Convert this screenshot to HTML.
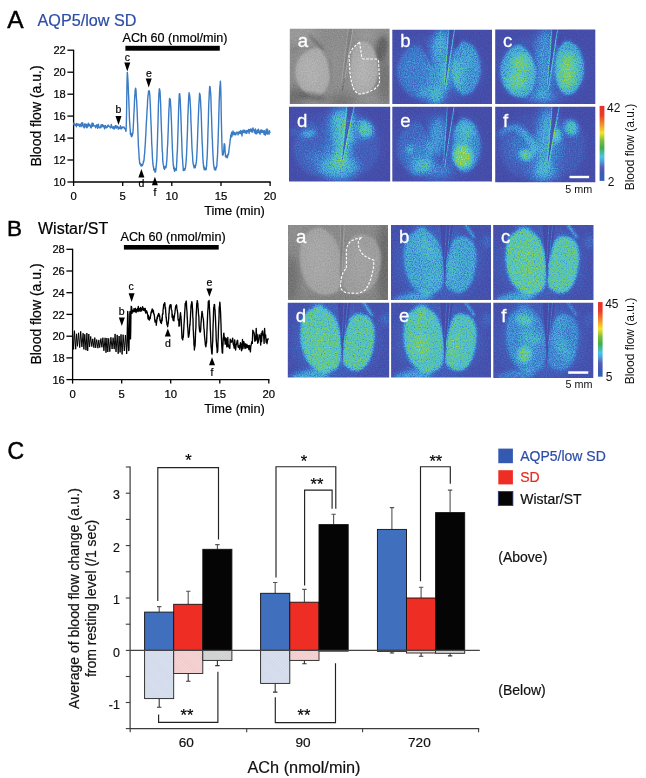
<!DOCTYPE html>
<html><head><meta charset="utf-8"><title>Figure</title>
<style>html,body{margin:0;padding:0;background:#fff}svg{display:block}text{font-family:"Liberation Sans", sans-serif}</style>
</head><body>
<svg width="646" height="778" viewBox="0 0 646 778">
<rect width="646" height="778" fill="#fff"/>
<defs><filter id="bl05" x="-0.5" y="-0.5" width="2" height="2"><feGaussianBlur stdDeviation="0.45"/></filter>
<filter id="bl1" x="-0.5" y="-0.5" width="2" height="2"><feGaussianBlur stdDeviation="1"/></filter>
<filter id="bl2" x="-0.5" y="-0.5" width="2" height="2"><feGaussianBlur stdDeviation="2.2"/></filter>
<filter id="bl4" x="-0.5" y="-0.5" width="2" height="2"><feGaussianBlur stdDeviation="4"/></filter>
<linearGradient id="cbar" x1="0" y1="0" x2="0" y2="1"><stop offset="0" stop-color="#e8302a"/><stop offset="0.12" stop-color="#ea3a28"/><stop offset="0.24" stop-color="#f28a2a"/><stop offset="0.36" stop-color="#f4e42c"/><stop offset="0.46" stop-color="#7fbf3c"/><stop offset="0.56" stop-color="#3fae4a"/><stop offset="0.68" stop-color="#4cc4e6"/><stop offset="0.74" stop-color="#4aa0dc"/><stop offset="0.82" stop-color="#5a5cb2"/><stop offset="0.9" stop-color="#3a5cb6"/><stop offset="1" stop-color="#3560b8"/></linearGradient>
<pattern id="hatch0" width="2" height="2" patternUnits="userSpaceOnUse" patternTransform="rotate(45)"><rect width="2" height="0.8" fill="#ccd5e8"/></pattern>
<pattern id="hatch1" width="2" height="2" patternUnits="userSpaceOnUse" patternTransform="rotate(45)"><rect width="2" height="0.8" fill="#f0c6c6"/></pattern>
<pattern id="hatch2" width="2" height="2" patternUnits="userSpaceOnUse" patternTransform="rotate(45)"><rect width="2" height="0.8" fill="#c8cac9"/></pattern>
<filter id="fAa" x="0" y="0" width="1" height="1" color-interpolation-filters="sRGB">
<feGaussianBlur in="SourceGraphic" stdDeviation="0.7" result="b"/>
<feTurbulence type="fractalNoise" baseFrequency="0.8" numOctaves="2" seed="1" result="n"/>
<feColorMatrix in="n" type="matrix" values="1 0 0 0 0  1 0 0 0 0  1 0 0 0 0  0 0 0 0 1" result="ng"/>
<feComposite in="b" in2="ng" operator="arithmetic" k1="0" k2="1" k3="0.15" k4="-0.075" result="m"/>
<feComponentTransfer in="m"><feFuncA type="linear" slope="0" intercept="1"/></feComponentTransfer>
</filter>
<filter id="fAb" x="0" y="0" width="1" height="1" color-interpolation-filters="sRGB">
<feGaussianBlur in="SourceGraphic" stdDeviation="0.5" result="b"/>
<feTurbulence type="fractalNoise" baseFrequency="0.85" numOctaves="2" seed="4" result="n"/>
<feColorMatrix in="n" type="matrix" values="1.45 0 0 0 -0.225  1.45 0 0 0 -0.225  1.45 0 0 0 -0.225  0 0 0 0 1" result="ng0"/>
<feGaussianBlur in="ng0" stdDeviation="0.35" result="ng"/>
<feComposite in="b" in2="ng" operator="arithmetic" k1="0.7" k2="0.65" k3="0.07" k4="-0.035" result="m"/>
<feComponentTransfer in="m"><feFuncR type="table" tableValues="0.267 0.271 0.273 0.269 0.261 0.249 0.249 0.261 0.276 0.296 0.327 0.371 0.417 0.466 0.537 0.631 0.725 0.820 0.914 0.961 0.961 0.961 0.952 0.936 0.919 0.902"/><feFuncG type="table" tableValues="0.259 0.286 0.315 0.351 0.398 0.457 0.526 0.607 0.674 0.726 0.763 0.782 0.796 0.804 0.819 0.841 0.863 0.875 0.888 0.837 0.722 0.607 0.496 0.389 0.283 0.176"/><feFuncB type="table" tableValues="0.620 0.646 0.676 0.711 0.751 0.794 0.824 0.839 0.831 0.800 0.735 0.637 0.539 0.441 0.362 0.303 0.243 0.216 0.190 0.170 0.157 0.144 0.140 0.146 0.151 0.157"/><feFuncA type="linear" slope="0" intercept="1"/></feComponentTransfer>
</filter>
<filter id="fAc" x="0" y="0" width="1" height="1" color-interpolation-filters="sRGB">
<feGaussianBlur in="SourceGraphic" stdDeviation="0.5" result="b"/>
<feTurbulence type="fractalNoise" baseFrequency="0.85" numOctaves="2" seed="7" result="n"/>
<feColorMatrix in="n" type="matrix" values="1.45 0 0 0 -0.225  1.45 0 0 0 -0.225  1.45 0 0 0 -0.225  0 0 0 0 1" result="ng0"/>
<feGaussianBlur in="ng0" stdDeviation="0.35" result="ng"/>
<feComposite in="b" in2="ng" operator="arithmetic" k1="0.7" k2="0.65" k3="0.07" k4="-0.035" result="m"/>
<feComponentTransfer in="m"><feFuncR type="table" tableValues="0.267 0.271 0.273 0.269 0.261 0.249 0.249 0.261 0.276 0.296 0.327 0.371 0.417 0.466 0.537 0.631 0.725 0.820 0.914 0.961 0.961 0.961 0.952 0.936 0.919 0.902"/><feFuncG type="table" tableValues="0.259 0.286 0.315 0.351 0.398 0.457 0.526 0.607 0.674 0.726 0.763 0.782 0.796 0.804 0.819 0.841 0.863 0.875 0.888 0.837 0.722 0.607 0.496 0.389 0.283 0.176"/><feFuncB type="table" tableValues="0.620 0.646 0.676 0.711 0.751 0.794 0.824 0.839 0.831 0.800 0.735 0.637 0.539 0.441 0.362 0.303 0.243 0.216 0.190 0.170 0.157 0.144 0.140 0.146 0.151 0.157"/><feFuncA type="linear" slope="0" intercept="1"/></feComponentTransfer>
</filter>
<filter id="fAd" x="0" y="0" width="1" height="1" color-interpolation-filters="sRGB">
<feGaussianBlur in="SourceGraphic" stdDeviation="0.5" result="b"/>
<feTurbulence type="fractalNoise" baseFrequency="0.85" numOctaves="2" seed="10" result="n"/>
<feColorMatrix in="n" type="matrix" values="1.45 0 0 0 -0.225  1.45 0 0 0 -0.225  1.45 0 0 0 -0.225  0 0 0 0 1" result="ng0"/>
<feGaussianBlur in="ng0" stdDeviation="0.35" result="ng"/>
<feComposite in="b" in2="ng" operator="arithmetic" k1="0.7" k2="0.65" k3="0.07" k4="-0.035" result="m"/>
<feComponentTransfer in="m"><feFuncR type="table" tableValues="0.267 0.271 0.273 0.269 0.261 0.249 0.249 0.261 0.276 0.296 0.327 0.371 0.417 0.466 0.537 0.631 0.725 0.820 0.914 0.961 0.961 0.961 0.952 0.936 0.919 0.902"/><feFuncG type="table" tableValues="0.259 0.286 0.315 0.351 0.398 0.457 0.526 0.607 0.674 0.726 0.763 0.782 0.796 0.804 0.819 0.841 0.863 0.875 0.888 0.837 0.722 0.607 0.496 0.389 0.283 0.176"/><feFuncB type="table" tableValues="0.620 0.646 0.676 0.711 0.751 0.794 0.824 0.839 0.831 0.800 0.735 0.637 0.539 0.441 0.362 0.303 0.243 0.216 0.190 0.170 0.157 0.144 0.140 0.146 0.151 0.157"/><feFuncA type="linear" slope="0" intercept="1"/></feComponentTransfer>
</filter>
<filter id="fAe" x="0" y="0" width="1" height="1" color-interpolation-filters="sRGB">
<feGaussianBlur in="SourceGraphic" stdDeviation="0.5" result="b"/>
<feTurbulence type="fractalNoise" baseFrequency="0.85" numOctaves="2" seed="13" result="n"/>
<feColorMatrix in="n" type="matrix" values="1.45 0 0 0 -0.225  1.45 0 0 0 -0.225  1.45 0 0 0 -0.225  0 0 0 0 1" result="ng0"/>
<feGaussianBlur in="ng0" stdDeviation="0.35" result="ng"/>
<feComposite in="b" in2="ng" operator="arithmetic" k1="0.7" k2="0.65" k3="0.07" k4="-0.035" result="m"/>
<feComponentTransfer in="m"><feFuncR type="table" tableValues="0.267 0.271 0.273 0.269 0.261 0.249 0.249 0.261 0.276 0.296 0.327 0.371 0.417 0.466 0.537 0.631 0.725 0.820 0.914 0.961 0.961 0.961 0.952 0.936 0.919 0.902"/><feFuncG type="table" tableValues="0.259 0.286 0.315 0.351 0.398 0.457 0.526 0.607 0.674 0.726 0.763 0.782 0.796 0.804 0.819 0.841 0.863 0.875 0.888 0.837 0.722 0.607 0.496 0.389 0.283 0.176"/><feFuncB type="table" tableValues="0.620 0.646 0.676 0.711 0.751 0.794 0.824 0.839 0.831 0.800 0.735 0.637 0.539 0.441 0.362 0.303 0.243 0.216 0.190 0.170 0.157 0.144 0.140 0.146 0.151 0.157"/><feFuncA type="linear" slope="0" intercept="1"/></feComponentTransfer>
</filter>
<filter id="fAf" x="0" y="0" width="1" height="1" color-interpolation-filters="sRGB">
<feGaussianBlur in="SourceGraphic" stdDeviation="0.5" result="b"/>
<feTurbulence type="fractalNoise" baseFrequency="0.85" numOctaves="2" seed="16" result="n"/>
<feColorMatrix in="n" type="matrix" values="1.45 0 0 0 -0.225  1.45 0 0 0 -0.225  1.45 0 0 0 -0.225  0 0 0 0 1" result="ng0"/>
<feGaussianBlur in="ng0" stdDeviation="0.35" result="ng"/>
<feComposite in="b" in2="ng" operator="arithmetic" k1="0.7" k2="0.65" k3="0.07" k4="-0.035" result="m"/>
<feComponentTransfer in="m"><feFuncR type="table" tableValues="0.267 0.271 0.273 0.269 0.261 0.249 0.249 0.261 0.276 0.296 0.327 0.371 0.417 0.466 0.537 0.631 0.725 0.820 0.914 0.961 0.961 0.961 0.952 0.936 0.919 0.902"/><feFuncG type="table" tableValues="0.259 0.286 0.315 0.351 0.398 0.457 0.526 0.607 0.674 0.726 0.763 0.782 0.796 0.804 0.819 0.841 0.863 0.875 0.888 0.837 0.722 0.607 0.496 0.389 0.283 0.176"/><feFuncB type="table" tableValues="0.620 0.646 0.676 0.711 0.751 0.794 0.824 0.839 0.831 0.800 0.735 0.637 0.539 0.441 0.362 0.303 0.243 0.216 0.190 0.170 0.157 0.144 0.140 0.146 0.151 0.157"/><feFuncA type="linear" slope="0" intercept="1"/></feComponentTransfer>
</filter>
<filter id="fBa" x="0" y="0" width="1" height="1" color-interpolation-filters="sRGB">
<feGaussianBlur in="SourceGraphic" stdDeviation="0.7" result="b"/>
<feTurbulence type="fractalNoise" baseFrequency="0.8" numOctaves="2" seed="19" result="n"/>
<feColorMatrix in="n" type="matrix" values="1 0 0 0 0  1 0 0 0 0  1 0 0 0 0  0 0 0 0 1" result="ng"/>
<feComposite in="b" in2="ng" operator="arithmetic" k1="0" k2="1" k3="0.15" k4="-0.075" result="m"/>
<feComponentTransfer in="m"><feFuncA type="linear" slope="0" intercept="1"/></feComponentTransfer>
</filter>
<filter id="fBb" x="0" y="0" width="1" height="1" color-interpolation-filters="sRGB">
<feGaussianBlur in="SourceGraphic" stdDeviation="0.5" result="b"/>
<feTurbulence type="fractalNoise" baseFrequency="0.85" numOctaves="2" seed="22" result="n"/>
<feColorMatrix in="n" type="matrix" values="1.45 0 0 0 -0.225  1.45 0 0 0 -0.225  1.45 0 0 0 -0.225  0 0 0 0 1" result="ng0"/>
<feGaussianBlur in="ng0" stdDeviation="0.35" result="ng"/>
<feComposite in="b" in2="ng" operator="arithmetic" k1="0.7" k2="0.65" k3="0.07" k4="-0.035" result="m"/>
<feComponentTransfer in="m"><feFuncR type="table" tableValues="0.267 0.271 0.273 0.269 0.261 0.249 0.249 0.261 0.276 0.296 0.327 0.371 0.417 0.466 0.537 0.631 0.725 0.820 0.914 0.961 0.961 0.961 0.952 0.936 0.919 0.902"/><feFuncG type="table" tableValues="0.259 0.286 0.315 0.351 0.398 0.457 0.526 0.607 0.674 0.726 0.763 0.782 0.796 0.804 0.819 0.841 0.863 0.875 0.888 0.837 0.722 0.607 0.496 0.389 0.283 0.176"/><feFuncB type="table" tableValues="0.620 0.646 0.676 0.711 0.751 0.794 0.824 0.839 0.831 0.800 0.735 0.637 0.539 0.441 0.362 0.303 0.243 0.216 0.190 0.170 0.157 0.144 0.140 0.146 0.151 0.157"/><feFuncA type="linear" slope="0" intercept="1"/></feComponentTransfer>
</filter>
<filter id="fBc" x="0" y="0" width="1" height="1" color-interpolation-filters="sRGB">
<feGaussianBlur in="SourceGraphic" stdDeviation="0.5" result="b"/>
<feTurbulence type="fractalNoise" baseFrequency="0.85" numOctaves="2" seed="25" result="n"/>
<feColorMatrix in="n" type="matrix" values="1.45 0 0 0 -0.225  1.45 0 0 0 -0.225  1.45 0 0 0 -0.225  0 0 0 0 1" result="ng0"/>
<feGaussianBlur in="ng0" stdDeviation="0.35" result="ng"/>
<feComposite in="b" in2="ng" operator="arithmetic" k1="0.7" k2="0.65" k3="0.07" k4="-0.035" result="m"/>
<feComponentTransfer in="m"><feFuncR type="table" tableValues="0.267 0.271 0.273 0.269 0.261 0.249 0.249 0.261 0.276 0.296 0.327 0.371 0.417 0.466 0.537 0.631 0.725 0.820 0.914 0.961 0.961 0.961 0.952 0.936 0.919 0.902"/><feFuncG type="table" tableValues="0.259 0.286 0.315 0.351 0.398 0.457 0.526 0.607 0.674 0.726 0.763 0.782 0.796 0.804 0.819 0.841 0.863 0.875 0.888 0.837 0.722 0.607 0.496 0.389 0.283 0.176"/><feFuncB type="table" tableValues="0.620 0.646 0.676 0.711 0.751 0.794 0.824 0.839 0.831 0.800 0.735 0.637 0.539 0.441 0.362 0.303 0.243 0.216 0.190 0.170 0.157 0.144 0.140 0.146 0.151 0.157"/><feFuncA type="linear" slope="0" intercept="1"/></feComponentTransfer>
</filter>
<filter id="fBd" x="0" y="0" width="1" height="1" color-interpolation-filters="sRGB">
<feGaussianBlur in="SourceGraphic" stdDeviation="0.5" result="b"/>
<feTurbulence type="fractalNoise" baseFrequency="0.85" numOctaves="2" seed="28" result="n"/>
<feColorMatrix in="n" type="matrix" values="1.45 0 0 0 -0.225  1.45 0 0 0 -0.225  1.45 0 0 0 -0.225  0 0 0 0 1" result="ng0"/>
<feGaussianBlur in="ng0" stdDeviation="0.35" result="ng"/>
<feComposite in="b" in2="ng" operator="arithmetic" k1="0.7" k2="0.65" k3="0.07" k4="-0.035" result="m"/>
<feComponentTransfer in="m"><feFuncR type="table" tableValues="0.267 0.271 0.273 0.269 0.261 0.249 0.249 0.261 0.276 0.296 0.327 0.371 0.417 0.466 0.537 0.631 0.725 0.820 0.914 0.961 0.961 0.961 0.952 0.936 0.919 0.902"/><feFuncG type="table" tableValues="0.259 0.286 0.315 0.351 0.398 0.457 0.526 0.607 0.674 0.726 0.763 0.782 0.796 0.804 0.819 0.841 0.863 0.875 0.888 0.837 0.722 0.607 0.496 0.389 0.283 0.176"/><feFuncB type="table" tableValues="0.620 0.646 0.676 0.711 0.751 0.794 0.824 0.839 0.831 0.800 0.735 0.637 0.539 0.441 0.362 0.303 0.243 0.216 0.190 0.170 0.157 0.144 0.140 0.146 0.151 0.157"/><feFuncA type="linear" slope="0" intercept="1"/></feComponentTransfer>
</filter>
<filter id="fBe" x="0" y="0" width="1" height="1" color-interpolation-filters="sRGB">
<feGaussianBlur in="SourceGraphic" stdDeviation="0.5" result="b"/>
<feTurbulence type="fractalNoise" baseFrequency="0.85" numOctaves="2" seed="31" result="n"/>
<feColorMatrix in="n" type="matrix" values="1.45 0 0 0 -0.225  1.45 0 0 0 -0.225  1.45 0 0 0 -0.225  0 0 0 0 1" result="ng0"/>
<feGaussianBlur in="ng0" stdDeviation="0.35" result="ng"/>
<feComposite in="b" in2="ng" operator="arithmetic" k1="0.7" k2="0.65" k3="0.07" k4="-0.035" result="m"/>
<feComponentTransfer in="m"><feFuncR type="table" tableValues="0.267 0.271 0.273 0.269 0.261 0.249 0.249 0.261 0.276 0.296 0.327 0.371 0.417 0.466 0.537 0.631 0.725 0.820 0.914 0.961 0.961 0.961 0.952 0.936 0.919 0.902"/><feFuncG type="table" tableValues="0.259 0.286 0.315 0.351 0.398 0.457 0.526 0.607 0.674 0.726 0.763 0.782 0.796 0.804 0.819 0.841 0.863 0.875 0.888 0.837 0.722 0.607 0.496 0.389 0.283 0.176"/><feFuncB type="table" tableValues="0.620 0.646 0.676 0.711 0.751 0.794 0.824 0.839 0.831 0.800 0.735 0.637 0.539 0.441 0.362 0.303 0.243 0.216 0.190 0.170 0.157 0.144 0.140 0.146 0.151 0.157"/><feFuncA type="linear" slope="0" intercept="1"/></feComponentTransfer>
</filter>
<filter id="fBf" x="0" y="0" width="1" height="1" color-interpolation-filters="sRGB">
<feGaussianBlur in="SourceGraphic" stdDeviation="0.5" result="b"/>
<feTurbulence type="fractalNoise" baseFrequency="0.85" numOctaves="2" seed="34" result="n"/>
<feColorMatrix in="n" type="matrix" values="1.45 0 0 0 -0.225  1.45 0 0 0 -0.225  1.45 0 0 0 -0.225  0 0 0 0 1" result="ng0"/>
<feGaussianBlur in="ng0" stdDeviation="0.35" result="ng"/>
<feComposite in="b" in2="ng" operator="arithmetic" k1="0.7" k2="0.65" k3="0.07" k4="-0.035" result="m"/>
<feComponentTransfer in="m"><feFuncR type="table" tableValues="0.267 0.271 0.273 0.269 0.261 0.249 0.249 0.261 0.276 0.296 0.327 0.371 0.417 0.466 0.537 0.631 0.725 0.820 0.914 0.961 0.961 0.961 0.952 0.936 0.919 0.902"/><feFuncG type="table" tableValues="0.259 0.286 0.315 0.351 0.398 0.457 0.526 0.607 0.674 0.726 0.763 0.782 0.796 0.804 0.819 0.841 0.863 0.875 0.888 0.837 0.722 0.607 0.496 0.389 0.283 0.176"/><feFuncB type="table" tableValues="0.620 0.646 0.676 0.711 0.751 0.794 0.824 0.839 0.831 0.800 0.735 0.637 0.539 0.441 0.362 0.303 0.243 0.216 0.190 0.170 0.157 0.144 0.140 0.146 0.151 0.157"/><feFuncA type="linear" slope="0" intercept="1"/></feComponentTransfer>
</filter></defs>
<text x="7.3" y="27.8" font-size="24.5" fill="#000" stroke="#000" stroke-width="0.45" text-anchor="start">A</text>
<text x="37.5" y="25.6" font-size="16.2" fill="#2c4da6" stroke="#2c4da6" stroke-width="0.2" text-anchor="start">AQP5/low SD</text>
<text x="122.5" y="42" font-size="12.6" fill="#000" stroke="#000" stroke-width="0.2" text-anchor="start">ACh 60 (nmol/min)</text>
<rect x="125.4" y="45.8" width="94.4" height="4.9" fill="#000"/>
<path d="M73.6,49.64000000000001 V182.0 H270.70000000000005" fill="none" stroke="#000" stroke-width="1.3"/>
<path d="M67.39999999999999,182.0 H73.6" stroke="#000" stroke-width="1.3"/>
<text x="65.8" y="186.1" font-size="11.1" fill="#000" stroke="#000" stroke-width="0.2" text-anchor="end">10</text>
<path d="M67.39999999999999,160.0 H73.6" stroke="#000" stroke-width="1.3"/>
<text x="65.8" y="164.1" font-size="11.1" fill="#000" stroke="#000" stroke-width="0.2" text-anchor="end">12</text>
<path d="M67.39999999999999,138.1 H73.6" stroke="#000" stroke-width="1.3"/>
<text x="65.8" y="142.2" font-size="11.1" fill="#000" stroke="#000" stroke-width="0.2" text-anchor="end">14</text>
<path d="M67.39999999999999,116.1 H73.6" stroke="#000" stroke-width="1.3"/>
<text x="65.8" y="120.2" font-size="11.1" fill="#000" stroke="#000" stroke-width="0.2" text-anchor="end">16</text>
<path d="M67.39999999999999,94.2 H73.6" stroke="#000" stroke-width="1.3"/>
<text x="65.8" y="98.3" font-size="11.1" fill="#000" stroke="#000" stroke-width="0.2" text-anchor="end">18</text>
<path d="M67.39999999999999,72.2 H73.6" stroke="#000" stroke-width="1.3"/>
<text x="65.8" y="76.3" font-size="11.1" fill="#000" stroke="#000" stroke-width="0.2" text-anchor="end">20</text>
<path d="M67.39999999999999,50.2 H73.6" stroke="#000" stroke-width="1.3"/>
<text x="65.8" y="54.3" font-size="11.1" fill="#000" stroke="#000" stroke-width="0.2" text-anchor="end">22</text>
<path d="M73.6,182.0 V186.0" stroke="#000" stroke-width="1.3"/>
<text x="73.6" y="200.4" font-size="11.3" fill="#000" stroke="#000" stroke-width="0.2" text-anchor="middle">0</text>
<path d="M122.7,182.0 V186.0" stroke="#000" stroke-width="1.3"/>
<text x="122.7" y="200.4" font-size="11.3" fill="#000" stroke="#000" stroke-width="0.2" text-anchor="middle">5</text>
<path d="M171.8,182.0 V186.0" stroke="#000" stroke-width="1.3"/>
<text x="171.8" y="200.4" font-size="11.3" fill="#000" stroke="#000" stroke-width="0.2" text-anchor="middle">10</text>
<path d="M221.0,182.0 V186.0" stroke="#000" stroke-width="1.3"/>
<text x="221.0" y="200.4" font-size="11.3" fill="#000" stroke="#000" stroke-width="0.2" text-anchor="middle">15</text>
<path d="M270.1,182.0 V186.0" stroke="#000" stroke-width="1.3"/>
<text x="270.1" y="200.4" font-size="11.3" fill="#000" stroke="#000" stroke-width="0.2" text-anchor="middle">20</text>
<text x="41.0" y="116" font-size="14" fill="#000" stroke="#000" stroke-width="0.2" text-anchor="middle" transform="rotate(-90 41.0 116)">Blood flow (a.u.)</text>
<text x="234.5" y="215.3" font-size="12.8" fill="#000" stroke="#000" stroke-width="0.2" text-anchor="middle">Time (min)</text>
<path d="M73.6,122.3 L74.0,124.9 L74.4,124.4 L74.8,123.9 L75.2,125.4 L75.6,124.5 L76.0,124.5 L76.4,126.7 L76.7,123.4 L77.1,123.9 L77.5,125.4 L77.9,124.9 L78.3,124.1 L78.7,125.0 L79.1,125.1 L79.5,126.5 L79.9,124.1 L80.3,124.7 L80.7,124.5 L81.1,126.7 L81.5,122.9 L81.9,124.8 L82.2,125.5 L82.6,122.6 L83.0,125.1 L83.4,126.8 L83.8,125.6 L84.2,127.9 L84.6,123.9 L85.0,125.7 L85.4,126.1 L85.8,124.0 L86.2,127.3 L86.6,124.7 L87.0,127.8 L87.4,126.2 L87.7,126.9 L88.1,123.7 L88.5,123.3 L88.9,125.9 L89.3,124.5 L89.7,125.8 L90.1,124.9 L90.5,126.5 L90.9,127.7 L91.3,127.8 L91.7,125.2 L92.1,123.0 L92.5,125.4 L92.9,126.4 L93.2,123.5 L93.6,125.5 L94.0,125.7 L94.4,125.6 L94.8,126.1 L95.2,126.3 L95.6,127.7 L96.0,125.4 L96.4,126.2 L96.8,124.6 L97.2,126.5 L97.6,128.4 L98.0,126.3 L98.4,124.1 L98.8,126.7 L99.1,127.3 L99.5,127.7 L99.9,127.6 L100.3,126.7 L100.7,127.8 L101.1,124.6 L101.5,126.8 L101.9,126.3 L102.3,124.7 L102.7,124.7 L103.1,126.8 L103.5,126.2 L103.9,125.7 L104.3,126.9 L104.6,128.8 L105.0,125.9 L105.4,125.6 L105.8,126.2 L106.2,127.9 L106.6,127.0 L107.0,127.5 L107.4,127.2 L107.8,125.3 L108.2,125.1 L108.6,126.1 L109.0,126.3 L109.4,126.2 L109.8,127.0 L110.1,127.1 L110.5,127.9 L110.9,127.2 L111.3,124.4 L111.7,126.1 L112.1,127.6 L112.5,127.8 L112.9,128.3 L113.3,126.8 L113.7,126.8 L114.1,129.1 L114.5,126.8 L114.9,128.1 L115.3,125.7 L115.7,127.3 L116.0,125.4 L116.4,128.1 L116.8,127.9 L117.2,127.2 L117.6,126.3 L118.0,126.9 L118.4,129.2 L118.8,127.5 L119.2,127.7 L119.6,128.3 L120.0,128.6 L120.4,125.7 L120.8,128.3 L121.2,128.9 L121.5,127.1 L121.9,127.8 L122.3,128.0 L122.7,127.0 L123.1,127.4 L123.5,127.6 L123.9,126.9 L124.3,127.8 L124.7,128.9 L125.1,128.6 L125.5,128.8 L125.7,130.2 L125.9,131.3 L126.1,130.7 L126.3,124.1 L126.5,116.3 L126.7,103.8 L126.9,87.4 L127.1,77.7 L127.3,72.4 L127.5,74.0 L127.7,76.6 L127.9,79.8 L128.1,83.3 L128.3,88.0 L128.5,94.1 L128.8,99.4 L129.0,106.6 L129.2,110.8 L129.4,117.9 L129.6,121.1 L129.8,124.3 L130.0,127.2 L130.2,129.2 L130.4,134.3 L130.6,133.2 L130.8,133.5 L131.0,134.2 L131.2,136.2 L131.4,134.9 L131.6,133.5 L131.8,136.8 L132.0,134.8 L132.2,134.0 L132.4,135.4 L132.6,133.3 L132.8,133.6 L133.0,131.4 L133.2,128.8 L133.4,124.5 L133.6,120.9 L133.8,115.4 L134.0,112.5 L134.3,106.8 L134.5,101.0 L134.7,97.0 L134.9,95.2 L135.1,90.4 L135.3,89.7 L135.5,88.3 L135.7,88.8 L135.9,89.0 L136.1,92.1 L136.3,96.7 L136.5,99.5 L136.7,101.2 L136.9,106.5 L137.1,109.8 L137.3,115.5 L137.5,121.6 L137.7,124.9 L137.9,131.7 L138.1,137.8 L138.2,138.3 L138.4,146.5 L138.6,147.9 L138.8,151.0 L139.0,154.8 L139.2,159.2 L139.4,158.6 L139.6,162.7 L139.8,163.9 L140.0,163.9 L140.2,163.4 L140.4,164.3 L140.6,164.1 L140.8,165.5 L141.0,165.2 L141.2,166.2 L141.4,165.4 L141.6,164.5 L141.8,165.4 L142.0,164.6 L142.2,165.6 L142.4,165.5 L142.6,164.7 L142.8,164.6 L143.0,163.5 L143.2,163.3 L143.4,161.0 L143.6,162.0 L143.8,160.9 L144.0,160.2 L144.2,157.5 L144.4,154.9 L144.6,154.1 L144.8,150.9 L145.0,147.4 L145.2,145.2 L145.4,142.3 L145.6,137.4 L145.8,134.6 L146.0,130.5 L146.2,125.9 L146.4,122.0 L146.6,119.5 L146.8,115.8 L147.0,111.3 L147.2,108.1 L147.4,106.5 L147.6,100.2 L147.8,98.6 L148.0,95.5 L148.2,95.3 L148.5,91.2 L148.7,91.9 L148.9,90.7 L149.1,91.7 L149.3,90.9 L149.5,92.3 L149.7,94.4 L149.9,96.7 L150.1,100.7 L150.3,104.1 L150.5,110.2 L150.7,115.8 L150.9,120.2 L151.1,125.0 L151.3,129.9 L151.5,135.7 L151.7,143.3 L151.9,146.0 L152.1,149.3 L152.3,154.6 L152.5,158.6 L152.7,160.8 L152.9,164.0 L153.1,164.8 L153.3,167.0 L153.5,166.7 L153.7,168.4 L153.9,170.1 L154.1,169.1 L154.3,168.9 L154.5,170.5 L154.7,170.3 L155.0,172.2 L155.1,169.0 L155.3,170.5 L155.5,171.8 L155.7,171.1 L155.9,168.9 L156.1,166.7 L156.3,165.8 L156.5,162.7 L156.7,161.0 L156.9,157.1 L157.1,150.0 L157.3,144.8 L157.5,139.0 L157.7,131.0 L157.9,126.2 L158.1,118.6 L158.3,110.4 L158.5,103.3 L158.7,99.5 L158.9,93.3 L159.1,92.1 L159.3,89.1 L159.5,88.8 L159.7,90.8 L159.9,90.6 L160.1,92.6 L160.3,97.2 L160.5,101.5 L160.7,105.1 L160.9,113.3 L161.1,119.4 L161.3,124.6 L161.5,131.2 L161.7,134.6 L161.9,141.1 L162.1,147.4 L162.3,151.7 L162.5,152.3 L162.7,159.1 L162.9,162.0 L163.1,163.1 L163.3,164.4 L163.6,166.0 L163.8,167.8 L164.0,168.5 L164.2,167.0 L164.4,167.8 L164.6,169.3 L164.8,166.6 L165.0,167.0 L165.2,167.9 L165.4,167.9 L165.6,167.2 L165.8,167.7 L166.0,167.7 L166.2,165.1 L166.4,165.4 L166.6,161.7 L166.8,161.1 L167.0,156.8 L167.2,153.3 L167.4,147.4 L167.6,145.8 L167.8,141.3 L168.0,135.4 L168.2,130.6 L168.4,124.7 L168.6,118.6 L168.8,113.4 L169.0,108.1 L169.2,106.6 L169.4,100.2 L169.6,98.5 L169.8,99.2 L170.0,100.8 L170.2,99.2 L170.4,100.6 L170.6,105.5 L170.8,106.6 L171.0,111.1 L171.2,116.6 L171.4,120.5 L171.6,125.7 L171.8,132.9 L172.0,137.8 L172.2,144.1 L172.4,149.2 L172.6,152.9 L172.8,156.5 L173.0,161.0 L173.3,165.4 L173.5,164.9 L173.7,168.7 L173.9,168.2 L174.1,167.3 L174.3,169.6 L174.5,171.0 L174.7,171.3 L174.9,168.8 L175.1,169.9 L175.3,169.4 L175.5,169.0 L175.7,169.8 L175.9,169.6 L176.1,169.5 L176.3,170.3 L176.5,166.8 L176.7,162.7 L176.9,159.3 L177.1,154.4 L177.4,149.7 L177.6,143.6 L177.8,136.6 L178.0,131.5 L178.2,124.1 L178.4,118.6 L178.6,109.8 L178.8,105.1 L179.0,100.0 L179.2,95.5 L179.4,93.8 L179.6,94.2 L179.8,94.0 L180.0,98.0 L180.2,99.0 L180.4,103.2 L180.6,109.7 L180.8,112.2 L181.0,120.1 L181.2,124.9 L181.4,132.2 L181.6,136.9 L181.8,142.3 L182.0,149.6 L182.2,155.0 L182.4,157.6 L182.6,160.0 L182.8,163.8 L183.0,166.1 L183.1,166.4 L183.3,170.6 L183.5,169.0 L183.7,170.0 L183.9,168.5 L184.1,169.5 L184.3,169.9 L184.5,169.2 L184.7,170.2 L184.9,168.7 L185.1,169.1 L185.3,168.3 L185.5,167.8 L185.7,165.0 L185.9,164.2 L186.1,161.2 L186.3,158.3 L186.5,155.9 L186.7,150.3 L186.9,145.7 L187.1,140.4 L187.3,135.4 L187.5,129.4 L187.7,122.2 L187.9,114.9 L188.1,112.2 L188.3,105.7 L188.5,102.1 L188.7,97.3 L188.9,94.9 L189.1,92.6 L189.3,95.8 L189.5,94.1 L189.7,95.9 L189.9,97.3 L190.1,101.0 L190.3,104.8 L190.5,107.9 L190.7,111.6 L190.9,121.4 L191.1,124.3 L191.3,129.2 L191.5,134.8 L191.7,140.2 L191.9,146.0 L192.1,150.0 L192.3,152.2 L192.5,155.2 L192.7,159.0 L192.9,162.2 L193.1,163.0 L193.3,164.7 L193.5,164.8 L193.7,165.9 L193.9,167.0 L194.1,166.3 L194.3,167.8 L194.5,165.8 L194.7,165.5 L194.9,167.8 L195.1,166.2 L195.3,167.5 L195.5,165.2 L195.7,164.9 L195.9,165.2 L196.1,162.8 L196.3,162.5 L196.5,160.5 L196.7,157.6 L196.9,153.7 L197.1,149.8 L197.3,144.7 L197.5,140.3 L197.7,133.5 L197.9,127.5 L198.1,123.2 L198.3,118.5 L198.6,111.0 L198.8,105.6 L199.0,102.6 L199.2,100.2 L199.4,96.0 L199.6,93.2 L199.8,96.0 L200.0,94.2 L200.2,96.4 L200.4,99.3 L200.6,101.1 L200.8,106.8 L201.0,109.7 L201.2,113.7 L201.4,120.1 L201.6,126.7 L201.8,133.1 L202.0,138.1 L202.2,143.9 L202.4,145.4 L202.6,151.6 L202.8,156.4 L203.0,160.1 L203.2,162.7 L203.4,164.3 L203.6,167.1 L203.8,165.5 L204.0,168.8 L204.2,169.5 L204.4,168.8 L204.6,167.8 L204.8,168.0 L205.0,169.9 L205.2,169.1 L205.4,169.2 L205.6,168.8 L205.8,168.9 L206.0,169.7 L206.2,169.3 L206.4,166.7 L206.6,166.2 L206.8,161.1 L207.0,159.1 L207.2,156.0 L207.4,150.3 L207.6,144.7 L207.8,137.9 L208.0,130.0 L208.2,125.2 L208.4,118.5 L208.6,109.3 L208.8,103.4 L209.1,97.4 L209.3,92.4 L209.5,89.5 L209.7,86.4 L209.9,87.4 L210.1,86.9 L210.3,89.3 L210.5,92.0 L210.7,93.5 L210.9,97.6 L211.1,104.7 L211.2,109.1 L211.4,113.3 L211.6,118.4 L211.8,126.0 L212.0,131.4 L212.2,138.2 L212.4,139.7 L212.6,146.7 L212.8,150.8 L213.0,155.0 L213.2,158.1 L213.4,161.2 L213.6,164.5 L213.8,165.2 L214.0,167.1 L214.2,166.9 L214.4,169.5 L214.6,169.6 L214.8,168.6 L215.0,168.1 L215.2,169.2 L215.4,170.1 L215.6,169.5 L215.8,169.8 L216.0,167.3 L216.2,168.0 L216.4,167.1 L216.6,167.1 L216.8,166.5 L217.0,162.7 L217.2,159.5 L217.4,157.1 L217.6,153.5 L217.8,147.5 L218.0,143.3 L218.2,136.0 L218.4,130.8 L218.6,124.2 L218.8,115.6 L219.0,109.0 L219.2,100.9 L219.4,97.1 L219.6,91.5 L219.8,88.4 L220.0,86.0 L220.2,83.9 L220.4,81.1 L220.6,85.0 L220.8,89.4 L221.0,99.1 L221.2,112.6 L221.4,122.6 L221.7,134.8 L221.9,142.4 L222.1,149.5 L222.3,151.7 L222.5,155.1 L222.7,153.9 L222.9,155.0 L223.2,154.6 L223.4,153.5 L223.6,152.6 L223.8,150.3 L224.0,146.4 L224.2,143.8 L224.4,144.9 L224.6,144.0 L224.9,146.3 L225.1,151.0 L225.3,152.8 L225.5,156.6 L225.7,155.0 L226.0,157.0 L226.2,156.8 L226.4,155.6 L226.6,156.9 L226.8,156.1 L227.0,157.7 L227.2,157.1 L227.4,157.7 L227.6,156.3 L227.8,154.7 L228.0,154.9 L228.2,153.6 L228.4,154.6 L228.6,153.4 L228.8,151.8 L229.0,149.5 L229.2,148.2 L229.4,147.0 L229.6,144.8 L229.8,143.9 L230.0,142.1 L230.2,139.2 L230.4,139.6 L230.6,137.4 L230.8,134.9 L231.0,135.4 L231.2,134.1 L231.4,135.0 L231.6,132.3 L231.8,136.7 L232.2,135.0 L232.6,134.8 L233.0,131.0 L233.4,132.7 L233.7,133.5 L234.1,134.9 L234.5,132.4 L234.9,132.7 L235.3,133.8 L235.7,134.9 L236.1,134.2 L236.5,132.3 L236.9,132.1 L237.3,132.3 L237.7,132.6 L238.1,134.8 L238.5,132.2 L238.9,133.7 L239.2,132.1 L239.6,131.4 L240.0,133.0 L240.4,133.4 L240.8,130.5 L241.2,131.3 L241.6,132.7 L242.0,136.0 L242.4,131.7 L242.8,130.7 L243.2,130.0 L243.6,132.5 L244.0,132.4 L244.4,132.0 L244.8,130.2 L245.1,133.0 L245.5,131.5 L245.9,132.6 L246.3,130.8 L246.7,133.4 L247.1,130.6 L247.5,131.8 L247.9,131.4 L248.3,130.3 L248.7,129.4 L249.1,133.5 L249.5,129.6 L249.9,130.2 L250.3,131.4 L250.6,129.0 L251.0,130.7 L251.4,129.1 L251.8,131.8 L252.2,132.2 L252.6,129.2 L253.0,127.9 L253.4,130.0 L253.8,129.7 L254.2,131.6 L254.6,132.9 L255.0,131.3 L255.4,128.9 L255.8,133.7 L256.1,131.7 L256.5,133.8 L256.9,130.9 L257.3,129.9 L257.7,132.9 L258.1,131.7 L258.5,129.3 L258.9,131.3 L259.3,133.0 L259.7,133.2 L260.1,134.2 L260.5,130.3 L260.9,132.5 L261.3,130.0 L261.7,130.3 L262.0,132.5 L262.4,132.4 L262.8,130.5 L263.2,131.5 L263.6,131.4 L264.0,134.2 L264.4,130.6 L264.8,133.2 L265.2,135.2 L265.6,132.9 L266.0,131.5 L266.4,129.2 L266.8,132.8 L267.2,134.2 L267.5,129.3 L267.9,132.2 L268.3,132.9 L268.7,134.1 L269.1,134.1 L269.5,130.6 L269.9,133.2" fill="none" stroke="#3a7bc4" stroke-width="1.4" stroke-linejoin="round"/>
<path d="M115.5,116 L121.5,116 L118.5,125 Z" fill="#000"/>
<text x="118.5" y="113.2" font-size="10.5" fill="#000" stroke="#000" stroke-width="0.2" text-anchor="middle">b</text>
<path d="M124.3,62.599999999999994 L130.3,62.599999999999994 L127.3,71.6 Z" fill="#000"/>
<text x="127.3" y="60.6" font-size="10.5" fill="#000" stroke="#000" stroke-width="0.2" text-anchor="middle">c</text>
<path d="M145.7,78.6 L151.7,78.6 L148.7,87.6 Z" fill="#000"/>
<text x="148.9" y="76.8" font-size="10.5" fill="#000" stroke="#000" stroke-width="0.2" text-anchor="middle">e</text>
<path d="M138.4,177.5 L144.4,177.5 L141.4,169 Z" fill="#000"/>
<text x="141.4" y="187.2" font-size="10.5" fill="#000" stroke="#000" stroke-width="0.2" text-anchor="middle">d</text>
<path d="M151.9,185.3 L157.9,185.3 L154.9,176.8 Z" fill="#000"/>
<text x="154.9" y="195.5" font-size="10.5" fill="#000" stroke="#000" stroke-width="0.2" text-anchor="middle">f</text>
<text x="7.0" y="235.8" font-size="22.5" fill="#000" stroke="#000" stroke-width="0.45" text-anchor="start">B</text>
<text x="38.0" y="233.9" font-size="16" fill="#000" stroke="#000" stroke-width="0.2" text-anchor="start">Wistar/ST</text>
<text x="120.6" y="240.6" font-size="12.6" fill="#000" stroke="#000" stroke-width="0.2" text-anchor="start">ACh 60 (nmol/min)</text>
<rect x="123.9" y="245.0" width="94.8" height="4.6" fill="#000"/>
<path d="M72.6,248.68000000000004 V379.6 H269.40000000000003" fill="none" stroke="#000" stroke-width="1.3"/>
<path d="M66.39999999999999,379.6 H72.6" stroke="#000" stroke-width="1.3"/>
<text x="64.8" y="383.7" font-size="11.1" fill="#000" stroke="#000" stroke-width="0.2" text-anchor="end">16</text>
<path d="M66.39999999999999,357.9 H72.6" stroke="#000" stroke-width="1.3"/>
<text x="64.8" y="362.0" font-size="11.1" fill="#000" stroke="#000" stroke-width="0.2" text-anchor="end">18</text>
<path d="M66.39999999999999,336.2 H72.6" stroke="#000" stroke-width="1.3"/>
<text x="64.8" y="340.3" font-size="11.1" fill="#000" stroke="#000" stroke-width="0.2" text-anchor="end">20</text>
<path d="M66.39999999999999,314.4 H72.6" stroke="#000" stroke-width="1.3"/>
<text x="64.8" y="318.5" font-size="11.1" fill="#000" stroke="#000" stroke-width="0.2" text-anchor="end">22</text>
<path d="M66.39999999999999,292.7 H72.6" stroke="#000" stroke-width="1.3"/>
<text x="64.8" y="296.8" font-size="11.1" fill="#000" stroke="#000" stroke-width="0.2" text-anchor="end">24</text>
<path d="M66.39999999999999,271.0 H72.6" stroke="#000" stroke-width="1.3"/>
<text x="64.8" y="275.1" font-size="11.1" fill="#000" stroke="#000" stroke-width="0.2" text-anchor="end">26</text>
<path d="M66.39999999999999,249.3 H72.6" stroke="#000" stroke-width="1.3"/>
<text x="64.8" y="253.4" font-size="11.1" fill="#000" stroke="#000" stroke-width="0.2" text-anchor="end">28</text>
<path d="M72.6,379.6 V383.6" stroke="#000" stroke-width="1.3"/>
<text x="72.6" y="398.0" font-size="11.3" fill="#000" stroke="#000" stroke-width="0.2" text-anchor="middle">0</text>
<path d="M121.7,379.6 V383.6" stroke="#000" stroke-width="1.3"/>
<text x="121.7" y="398.0" font-size="11.3" fill="#000" stroke="#000" stroke-width="0.2" text-anchor="middle">5</text>
<path d="M170.7,379.6 V383.6" stroke="#000" stroke-width="1.3"/>
<text x="170.7" y="398.0" font-size="11.3" fill="#000" stroke="#000" stroke-width="0.2" text-anchor="middle">10</text>
<path d="M219.8,379.6 V383.6" stroke="#000" stroke-width="1.3"/>
<text x="219.8" y="398.0" font-size="11.3" fill="#000" stroke="#000" stroke-width="0.2" text-anchor="middle">15</text>
<path d="M268.8,379.6 V383.6" stroke="#000" stroke-width="1.3"/>
<text x="268.8" y="398.0" font-size="11.3" fill="#000" stroke="#000" stroke-width="0.2" text-anchor="middle">20</text>
<text x="40.6" y="314" font-size="14" fill="#000" stroke="#000" stroke-width="0.2" text-anchor="middle" transform="rotate(-90 40.6 314)">Blood flow (a.u.)</text>
<text x="234.5" y="412.8" font-size="12.8" fill="#000" stroke="#000" stroke-width="0.2" text-anchor="middle">Time (min)</text>
<path d="M72.6,330.8 L73.6,349.4 L74.5,330.7 L75.7,349.2 L76.6,333.8 L77.5,346.3 L78.6,332.8 L79.7,347.6 L80.7,331.3 L81.9,346.9 L83.1,333.2 L83.9,349.4 L84.8,334.3 L86.0,350.2 L86.9,333.1 L87.7,350.9 L88.8,334.0 L89.6,346.9 L90.7,336.4 L91.8,346.6 L92.8,338.8 L93.9,347.7 L94.8,337.6 L95.7,347.9 L96.7,339.6 L97.9,348.2 L98.8,339.9 L99.7,347.6 L100.9,338.5 L101.9,347.3 L102.9,337.7 L103.9,350.8 L105.1,337.8 L106.0,352.7 L106.9,338.0 L107.8,352.0 L108.7,338.4 L109.8,351.7 L110.9,337.3 L112.1,349.0 L113.1,337.7 L114.2,349.1 L115.1,333.9 L116.0,351.9 L117.2,334.9 L118.2,353.7 L119.1,336.0 L120.1,352.4 L121.0,334.4 L122.1,354.4 L123.1,334.7 L124.3,351.0 L125.4,335.0 L126.6,353.9" fill="none" stroke="#000" stroke-width="1.0" stroke-linejoin="round"/>
<path d="M126.6,353.9 L127.0,341.2 L127.3,331.0 L127.5,321.6 L127.7,311.4 L128.0,315.6 L128.2,333.1 L128.5,346.2 L128.7,350.5 L128.9,350.3 L129.1,341.5 L129.4,331.9 L129.6,324.0 L129.8,313.5 L130.0,311.4 L130.2,325.2 L130.5,338.9 L130.7,332.0 L130.9,316.0 L131.2,306.3 L131.4,306.9 L131.6,306.8 L131.8,311.2 L132.0,311.8 L132.1,313.3 L132.3,309.8 L132.5,310.7 L132.7,311.5 L132.9,311.6 L133.1,311.4 L133.3,311.8 L133.5,311.0 L133.7,311.2 L133.9,308.7 L134.1,310.1 L134.3,311.6 L134.5,311.2 L134.7,308.9 L134.9,309.8 L135.1,310.0 L135.3,309.4 L135.5,308.3 L135.7,311.9 L135.9,311.3 L136.1,312.5 L136.3,309.6 L136.5,310.7 L136.7,311.0 L136.9,311.1 L137.1,309.2 L137.3,310.2 L137.5,310.7 L137.7,308.3 L137.9,311.3 L138.1,311.5 L138.3,306.4 L138.5,310.2 L138.7,310.4 L138.9,310.6 L139.1,309.8 L139.3,308.6 L139.5,308.6 L139.7,308.8 L139.9,309.8 L140.1,311.4 L140.3,309.0 L140.5,307.4 L140.7,307.9 L140.9,309.5 L141.0,308.2 L141.2,309.7 L141.4,309.3 L141.6,310.8 L141.8,309.6 L142.0,309.0 L142.2,309.3 L142.4,308.1 L142.6,306.6 L142.8,307.3 L143.0,309.4 L143.2,310.0 L143.4,309.9 L143.6,310.3 L143.8,309.0 L144.0,308.5 L144.2,308.8 L144.4,308.8 L144.6,309.1 L144.8,309.9 L145.0,311.1 L145.2,308.4 L145.4,309.8 L145.6,312.8 L145.8,313.1 L146.0,313.0 L146.2,312.2 L146.4,310.7 L146.6,311.2 L146.8,311.5 L147.0,311.9 L147.2,312.4 L147.4,313.5 L147.6,314.5 L147.8,316.0 L148.0,318.8 L148.2,317.3 L148.4,315.4 L148.6,319.0 L148.8,319.5 L149.0,317.7 L149.2,319.2 L149.4,320.0 L149.6,317.2 L149.8,318.1 L150.0,317.5 L150.2,318.6 L150.4,316.5 L150.6,315.8 L150.8,314.4 L151.0,312.9 L151.2,312.0 L151.4,312.3 L151.6,310.8 L151.8,312.5 L152.0,309.5 L152.2,309.0 L152.4,310.2 L152.6,310.6 L152.9,309.8 L153.1,311.7 L153.3,310.3 L153.5,311.2 L153.7,313.9 L153.9,313.8 L154.1,313.8 L154.3,315.2 L154.5,316.7 L154.7,319.5 L154.9,321.0 L155.1,322.1 L155.3,321.7 L155.5,320.1 L155.7,321.7 L155.9,321.6 L156.1,321.8 L156.3,325.2 L156.5,322.6 L156.7,321.9 L156.9,318.6 L157.2,316.9 L157.4,318.7 L157.6,316.7 L157.8,315.1 L158.0,315.7 L158.2,315.4 L158.4,315.3 L158.6,313.4 L158.9,316.1 L159.1,313.9 L159.3,316.0 L159.5,315.9 L159.7,315.8 L159.9,319.6 L160.1,320.7 L160.3,319.8 L160.6,322.4 L160.8,322.6 L161.0,322.1 L161.2,321.8 L161.4,323.5 L161.6,321.9 L161.8,319.8 L162.0,317.7 L162.2,320.6 L162.4,314.8 L162.6,313.7 L162.8,314.5 L163.0,313.2 L163.1,309.1 L163.3,308.7 L163.5,306.6 L163.7,304.5 L163.9,305.3 L164.1,304.1 L164.3,303.5 L164.5,303.2 L164.7,302.6 L164.9,303.7 L165.1,306.8 L165.3,309.0 L165.5,307.4 L165.7,311.6 L165.9,313.9 L166.1,317.9 L166.3,317.4 L166.5,321.2 L166.8,322.3 L167.0,324.7 L167.2,324.6 L167.4,324.5 L167.6,326.7 L167.8,325.7 L168.0,323.8 L168.1,324.1 L168.3,322.5 L168.5,320.0 L168.7,318.6 L168.9,313.6 L169.1,313.4 L169.3,309.0 L169.5,306.8 L169.7,307.9 L169.9,305.1 L170.1,305.0 L170.3,305.6 L170.5,304.7 L170.7,305.1 L170.9,304.7 L171.1,305.3 L171.3,309.4 L171.5,309.9 L171.7,310.2 L171.9,311.0 L172.1,317.2 L172.3,313.9 L172.5,317.0 L172.7,315.9 L172.9,319.2 L173.1,320.2 L173.3,319.3 L173.5,317.6 L173.7,318.6 L173.9,320.9 L174.1,315.8 L174.3,317.4 L174.5,315.1 L174.7,313.8 L174.9,313.1 L175.1,310.8 L175.3,309.2 L175.5,307.5 L175.7,306.0 L175.9,305.8 L176.1,307.1 L176.3,305.7 L176.5,304.8 L176.7,305.9 L176.9,308.4 L177.1,309.5 L177.4,311.0 L177.6,312.4 L177.8,314.0 L178.0,318.5 L178.2,320.1 L178.4,319.3 L178.6,320.2 L178.8,320.9 L179.0,326.2 L179.2,323.0 L179.5,325.7 L179.7,318.8 L179.9,317.7 L180.1,316.0 L180.3,315.0 L180.5,312.7 L180.7,315.6 L180.9,316.1 L181.2,320.1 L181.4,324.5 L181.6,328.8 L181.8,333.4 L182.0,338.4 L182.3,338.3 L182.5,339.0 L182.7,339.9 L182.9,337.9 L183.1,336.2 L183.3,337.2 L183.5,333.4 L183.6,331.0 L183.8,328.6 L184.0,323.8 L184.2,322.1 L184.4,318.2 L184.6,314.1 L184.8,311.0 L185.0,308.3 L185.2,303.5 L185.4,305.2 L185.6,302.8 L185.8,303.8 L186.0,301.3 L186.2,301.0 L186.4,302.4 L186.6,307.1 L186.8,309.8 L187.0,311.5 L187.2,317.4 L187.4,320.2 L187.6,326.8 L187.8,327.4 L188.0,331.0 L188.2,334.1 L188.4,337.2 L188.7,336.9 L188.8,336.2 L189.0,335.0 L189.2,333.9 L189.4,331.9 L189.6,328.7 L189.8,324.2 L190.0,325.3 L190.2,321.1 L190.4,318.0 L190.6,313.6 L190.8,311.9 L191.0,306.3 L191.2,304.8 L191.4,303.6 L191.6,303.2 L191.8,301.7 L192.0,302.3 L192.2,303.8 L192.4,308.0 L192.6,309.9 L192.8,317.1 L193.0,318.4 L193.2,329.3 L193.4,331.2 L193.6,336.9 L193.8,338.7 L194.0,345.4 L194.2,343.9 L194.4,350.0 L194.6,345.9 L194.8,347.1 L195.1,345.3 L195.3,341.0 L195.5,333.8 L195.7,329.7 L195.9,327.6 L196.1,317.0 L196.3,312.5 L196.5,310.0 L196.8,303.1 L197.0,303.3 L197.2,300.6 L197.4,300.9 L197.6,303.1 L197.8,303.0 L198.0,307.4 L198.2,308.5 L198.4,312.5 L198.6,315.2 L198.8,315.8 L199.0,321.3 L199.1,325.9 L199.3,327.3 L199.5,330.4 L199.7,331.0 L199.9,331.8 L200.1,332.2 L200.3,331.7 L200.6,330.8 L200.8,326.9 L201.0,322.9 L201.2,321.7 L201.4,317.8 L201.7,315.0 L201.9,311.8 L202.1,311.4 L202.3,314.0 L202.5,313.5 L202.7,316.6 L202.9,317.3 L203.1,317.7 L203.3,318.9 L203.5,320.7 L203.7,324.8 L203.9,328.7 L204.1,329.1 L204.3,332.4 L204.4,334.2 L204.6,337.0 L204.8,338.5 L205.0,340.6 L205.2,342.1 L205.4,345.1 L205.6,344.2 L205.8,346.8 L206.0,346.3 L206.2,343.3 L206.4,343.3 L206.6,342.2 L206.8,334.6 L207.0,330.4 L207.2,324.9 L207.4,320.6 L207.6,315.1 L207.8,311.0 L208.1,307.5 L208.3,301.5 L208.5,302.0 L208.7,301.5 L208.9,302.0 L209.1,300.5 L209.3,304.2 L209.5,309.1 L209.7,312.7 L209.9,316.6 L210.1,321.1 L210.3,329.5 L210.5,331.4 L210.7,337.9 L210.9,343.1 L211.1,346.7 L211.3,348.5 L211.5,349.7 L211.7,353.3 L211.9,353.2 L212.1,354.0 L212.3,349.4 L212.5,344.3 L212.7,341.3 L212.9,333.3 L213.1,324.5 L213.3,321.0 L213.5,313.2 L213.7,307.3 L214.0,307.3 L214.2,304.6 L214.4,304.5 L214.6,304.7 L214.8,309.7 L215.0,309.5 L215.2,314.1 L215.4,316.9 L215.6,321.4 L215.8,327.0 L216.0,331.3 L216.2,338.6 L216.4,342.1 L216.6,345.2 L216.8,347.2 L217.0,347.7 L217.2,352.6 L217.4,351.1 L217.6,351.6 L217.8,349.5 L218.0,341.8 L218.2,338.7 L218.4,330.9 L218.6,325.3 L218.8,321.9 L219.0,317.4 L219.2,307.3 L219.4,306.8 L219.6,305.3 L219.8,302.1 L220.0,303.6 L220.2,306.8 L220.4,309.8 L220.6,313.6 L220.8,319.0 L221.0,324.0 L221.2,331.4 L221.4,337.2 L221.6,341.3 L221.8,346.2 L222.0,348.6 L222.2,352.5 L222.4,353.0 L222.6,353.1 L222.8,346.2 L223.0,345.3 L223.2,338.4 L223.5,336.4 L223.7,333.5 L223.9,333.3 L224.1,337.2 L224.3,336.6 L224.5,340.1 L224.8,337.6 L225.0,341.5 L225.2,344.2 L225.4,343.9 L225.6,341.5 L225.8,338.0 L226.3,338.8 L226.8,346.9 L227.3,344.4 L227.8,337.5 L228.3,346.7 L228.8,345.2 L229.3,347.6 L229.8,348.5 L230.2,339.2 L230.7,341.5 L231.2,342.2 L231.7,341.8 L232.2,340.0 L232.7,338.2 L233.2,344.1 L233.7,345.4 L234.2,348.1 L234.7,339.9 L235.2,346.2 L235.6,350.0 L236.1,345.3 L236.6,344.1 L237.1,341.0 L237.6,340.3 L238.1,347.2 L238.6,347.4 L239.1,345.6 L239.6,349.1 L240.1,344.8 L240.5,342.6 L241.0,344.2 L241.5,350.7 L242.0,349.1 L242.5,339.5 L243.0,348.5 L243.5,341.6 L244.0,342.1 L244.5,345.8 L245.0,348.5 L245.5,343.8 L245.9,348.1 L246.4,345.3 L246.9,344.3 L247.4,347.5 L247.9,345.6 L248.4,345.9 L248.9,349.6 L249.4,345.5 L249.9,347.3 L250.4,351.9 L250.8,346.2 L251.3,344.4 L251.8,341.6 L252.3,343.4 L252.8,330.2 L253.3,331.3 L253.8,332.2 L254.3,334.2 L254.8,341.2 L255.3,336.3 L255.8,340.5 L256.2,328.4 L256.7,339.1 L257.2,334.5 L257.7,343.3 L258.2,341.9 L258.7,339.5 L259.2,334.8 L259.7,335.5 L260.2,336.6 L260.7,345.1 L261.1,333.5 L261.6,341.6 L262.1,331.8 L262.6,330.9 L263.1,335.1 L263.6,334.5 L264.1,343.4 L264.6,328.5 L265.1,337.8 L265.6,334.9 L266.1,342.2 L266.5,339.2 L267.0,343.7 L267.5,340.1 L268.0,339.2 L268.5,338.4" fill="none" stroke="#000" stroke-width="1.35" stroke-linejoin="round"/>
<path d="M118.8,317.5 L124.8,317.5 L121.8,326 Z" fill="#000"/>
<text x="121.6" y="315" font-size="10.5" fill="#000" stroke="#000" stroke-width="0.2" text-anchor="middle">b</text>
<path d="M128.6,293.3 L134.6,293.3 L131.6,302 Z" fill="#000"/>
<text x="131.2" y="290.2" font-size="10.5" fill="#000" stroke="#000" stroke-width="0.2" text-anchor="middle">c</text>
<path d="M164.8,336.5 L170.8,336.5 L167.8,328.5 Z" fill="#000"/>
<text x="167.8" y="346.6" font-size="10.5" fill="#000" stroke="#000" stroke-width="0.2" text-anchor="middle">d</text>
<path d="M206.4,288.40000000000003 L212.4,288.40000000000003 L209.4,296.8 Z" fill="#000"/>
<text x="209.4" y="285.8" font-size="10.5" fill="#000" stroke="#000" stroke-width="0.2" text-anchor="middle">e</text>
<path d="M209.0,365.3 L215.0,365.3 L212,357.3 Z" fill="#000"/>
<text x="212" y="375.6" font-size="10.5" fill="#000" stroke="#000" stroke-width="0.2" text-anchor="middle">f</text>
<svg x="289.8" y="28.8" width="99.8" height="75.2" viewBox="0 0 100 75" preserveAspectRatio="none" overflow="hidden">
<g filter="url(#fAa)"><rect x="-20" y="-20" width="140" height="115" fill="#8c8c8c"/><ellipse cx="10" cy="6" rx="18" ry="9" transform="rotate(0 10 6)" fill="#a6a6a6" fill-opacity="0.55" filter="url(#bl4)"/><ellipse cx="76" cy="6" rx="11" ry="5" transform="rotate(0 76 6)" fill="#a8a8a8" fill-opacity="0.55" filter="url(#bl4)"/><ellipse cx="92" cy="20" rx="6" ry="13" transform="rotate(10 92 20)" fill="#484848" fill-opacity="0.6" filter="url(#bl2)"/><ellipse cx="95" cy="52" rx="6" ry="24" transform="rotate(0 95 52)" fill="#5a5a5a" fill-opacity="0.55" filter="url(#bl4)"/><ellipse cx="5" cy="68" rx="12" ry="9" transform="rotate(-30 5 68)" fill="#555" fill-opacity="0.55" filter="url(#bl4)"/><ellipse cx="52" cy="72" rx="14" ry="7" transform="rotate(0 52 72)" fill="#5c5c5c" fill-opacity="0.5" filter="url(#bl4)"/><path d="M20,7 L33,20" stroke="#4a4a4a" stroke-opacity="0.45" stroke-width="2.2" fill="none" stroke-linecap="round" filter="url(#bl1)"/><path d="M0,22 L12,17" stroke="#555" stroke-opacity="0.3" stroke-width="1.5" fill="none" stroke-linecap="round" filter="url(#bl1)"/><ellipse cx="82" cy="72" rx="12" ry="5" transform="rotate(0 82 72)" fill="#999" fill-opacity="0.3" filter="url(#bl4)"/><ellipse cx="46" cy="36" rx="8" ry="24" transform="rotate(3 46 36)" fill="#969696" fill-opacity="0.35" filter="url(#bl4)"/><path d="M28.0,19.0 C25.2,18.2 21.2,20.2 18.0,22.0 C14.8,23.8 11.1,26.7 9.0,30.0 C6.9,33.3 5.7,38.0 5.5,42.0 C5.3,46.0 6.2,50.3 8.0,54.0 C9.8,57.7 13.0,61.7 16.0,64.0 C19.0,66.3 22.8,68.3 26.0,68.0 C29.2,67.7 32.7,65.0 35.0,62.0 C37.3,59.0 39.3,54.0 40.0,50.0 C40.7,46.0 39.8,41.8 39.0,38.0 C38.2,34.2 36.8,30.2 35.0,27.0 C33.2,23.8 30.8,19.8 28.0,19.0Z" fill="#acacac" fill-opacity="0.92" filter="url(#bl1)"/><ellipse cx="21" cy="42" rx="10" ry="15" transform="rotate(-8 21 42)" fill="#b8b8b8" fill-opacity="0.45" filter="url(#bl4)"/><ellipse cx="23" cy="67.5" rx="14" ry="2.8" transform="rotate(10 23 67.5)" fill="#484848" fill-opacity="0.6" filter="url(#bl2)"/><path d="M40,32 L42,54" stroke="#606060" stroke-opacity="0.35" stroke-width="1.6" fill="none" stroke-linecap="round" filter="url(#bl1)"/><path d="M70.0,13.0 C67.2,14.2 64.7,17.8 63.0,22.0 C61.3,26.2 60.2,32.7 60.0,38.0 C59.8,43.3 60.7,49.7 62.0,54.0 C63.3,58.3 65.3,62.3 68.0,64.0 C70.7,65.7 75.0,65.7 78.0,64.0 C81.0,62.3 84.2,58.0 86.0,54.0 C87.8,50.0 88.5,44.7 88.5,40.0 C88.5,35.3 87.4,30.2 86.0,26.0 C84.6,21.8 82.7,17.2 80.0,15.0 C77.3,12.8 72.8,11.8 70.0,13.0Z" fill="#adadad" fill-opacity="0.92" filter="url(#bl1)"/><ellipse cx="73" cy="42" rx="8" ry="16" transform="rotate(4 73 42)" fill="#bcbcbc" fill-opacity="0.5" filter="url(#bl4)"/><path d="M60,24 L61,52" stroke="#666" stroke-opacity="0.3" stroke-width="1.4" fill="none" stroke-linecap="round" filter="url(#bl1)"/><path d="M59,-2 L63.5,-2 L52.5,62 Z" fill="#777" fill-opacity="0.55" filter="url(#bl05)"/><path d="M63.6,-2 L54,56" stroke="#bdbdbd" stroke-opacity="0.6" stroke-width="0.9" fill="none" stroke-linecap="round" filter="url(#bl05)"/><path d="M58.8,-2 L52,52" stroke="#b2b2b2" stroke-opacity="0.55" stroke-width="0.8" fill="none" stroke-linecap="round" filter="url(#bl05)"/><path d="M55,50 L52.5,62" stroke="#555" stroke-opacity="0.5" stroke-width="1.2" fill="none" stroke-linecap="round" filter="url(#bl05)"/></g>
</svg>
<text x="297.7" y="47.2" font-size="18.6" fill="#fff" stroke="#fff" stroke-width="0.3">a</text>
<svg x="392.3" y="29.8" width="99.7" height="74.2" viewBox="0 0 100 75" preserveAspectRatio="none" overflow="hidden">
<g filter="url(#fAb)"><rect x="-20" y="-20" width="140" height="115" fill="rgb(17,17,17)"/><ellipse cx="47" cy="40" rx="45" ry="35" transform="rotate(0 47 40)" fill="#fff" fill-opacity="0.05" filter="url(#bl4)"/><path d="M23.0,15.3 C19.8,15.6 15.0,18.3 12.0,22.0 C9.0,25.7 5.9,32.4 5.0,37.5 C4.1,42.6 4.8,48.0 6.8,52.8 C8.8,57.6 13.3,63.9 17.0,66.4 C20.7,68.9 25.6,69.1 29.0,68.0 C32.4,66.9 35.7,63.3 37.5,59.6 C39.3,55.9 39.9,50.5 40.0,46.0 C40.1,41.5 39.7,36.7 38.3,32.4 C36.9,28.1 34.0,23.2 31.5,20.4 C28.9,17.5 26.2,15.0 23.0,15.3Z" fill="#fff" fill-opacity="0.085" filter="url(#bl1)"/><path d="M23.3,22.0 C20.8,22.2 17.3,24.2 15.0,27.0 C12.8,29.8 10.4,34.8 9.8,38.6 C9.1,42.5 9.6,46.5 11.1,50.1 C12.6,53.7 16.0,58.4 18.8,60.3 C21.5,62.2 25.2,62.4 27.8,61.5 C30.3,60.7 32.8,58.0 34.1,55.2 C35.5,52.5 35.9,48.4 36.0,45.0 C36.1,41.6 35.8,38.0 34.7,34.8 C33.7,31.6 31.5,27.9 29.6,25.8 C27.7,23.7 25.7,21.8 23.3,22.0Z" fill="#fff" fill-opacity="0.04" filter="url(#bl2)"/><ellipse cx="48" cy="36" rx="10" ry="42" transform="rotate(4 48 36)" fill="#fff" fill-opacity="0.18" filter="url(#bl4)"/><ellipse cx="38" cy="66" rx="12" ry="8" transform="rotate(0 38 66)" fill="#fff" fill-opacity="0.15" filter="url(#bl4)"/><ellipse cx="45" cy="14" rx="8" ry="12" transform="rotate(10 45 14)" fill="#fff" fill-opacity="0.08" filter="url(#bl4)"/><ellipse cx="55" cy="45" rx="6" ry="18" transform="rotate(5 55 45)" fill="#fff" fill-opacity="0.1" filter="url(#bl4)"/><path d="M69.8,12.0 C67.5,13.3 64.6,16.1 63.0,20.4 C61.4,24.6 60.5,31.8 60.4,37.5 C60.2,43.2 60.5,49.8 62.1,54.5 C63.7,59.2 66.8,64.2 69.8,65.6 C72.8,67.0 77.0,65.7 80.0,63.0 C83.0,60.3 86.3,54.2 87.7,49.4 C89.1,44.6 89.2,39.1 88.5,34.0 C87.8,28.9 85.4,22.2 83.4,18.7 C81.4,15.2 78.9,13.9 76.6,12.8 C74.3,11.7 72.1,10.7 69.8,12.0Z" fill="#fff" fill-opacity="0.17" filter="url(#bl1)"/><ellipse cx="65.5" cy="46" rx="5.5" ry="15" transform="rotate(4 65.5 46)" fill="#fff" fill-opacity="0.14" filter="url(#bl4)"/><ellipse cx="76" cy="30" rx="7" ry="10" transform="rotate(0 76 30)" fill="#fff" fill-opacity="0.05" filter="url(#bl4)"/><ellipse cx="64.5" cy="12" rx="2.4" ry="7" transform="rotate(12 64.5 12)" fill="#000" fill-opacity="0.7" filter="url(#bl1)"/><path d="M30,12 L40,36" stroke="#000" stroke-opacity="0.35" stroke-width="2.0" fill="none" stroke-linecap="round" filter="url(#bl1)"/><path d="M57.599999999999994,-2 L61.6,-2 L52.4,63 Z" fill="#000" fill-opacity="0.6" filter="url(#bl05)"/><path d="M62.6,-2 L53.199999999999996,60" stroke="#fff" stroke-opacity="0.3" stroke-width="0.9" fill="none" stroke-linecap="round" filter="url(#bl05)"/><path d="M56.599999999999994,-2 L52.1,55" stroke="#fff" stroke-opacity="0.24" stroke-width="0.8" fill="none" stroke-linecap="round" filter="url(#bl05)"/></g>
</svg>
<text x="400.2" y="47.2" font-size="18.6" fill="#fff" stroke="#fff" stroke-width="0.3">b</text>
<svg x="495.2" y="29.4" width="100.1" height="74.6" viewBox="0 0 100 75" preserveAspectRatio="none" overflow="hidden">
<g filter="url(#fAc)"><rect x="-20" y="-20" width="140" height="115" fill="rgb(17,17,17)"/><ellipse cx="47" cy="40" rx="45" ry="35" transform="rotate(0 47 40)" fill="#fff" fill-opacity="0.05" filter="url(#bl4)"/><path d="M23.0,15.3 C19.8,15.6 15.0,18.3 12.0,22.0 C9.0,25.7 5.9,32.4 5.0,37.5 C4.1,42.6 4.8,48.0 6.8,52.8 C8.8,57.6 13.3,63.9 17.0,66.4 C20.7,68.9 25.6,69.1 29.0,68.0 C32.4,66.9 35.7,63.3 37.5,59.6 C39.3,55.9 39.9,50.5 40.0,46.0 C40.1,41.5 39.7,36.7 38.3,32.4 C36.9,28.1 34.0,23.2 31.5,20.4 C28.9,17.5 26.2,15.0 23.0,15.3Z" fill="#fff" fill-opacity="0.2" filter="url(#bl1)"/><ellipse cx="26" cy="33" rx="9.5" ry="9.5" transform="rotate(0 26 33)" fill="#fff" fill-opacity="0.2" filter="url(#bl4)"/><ellipse cx="21" cy="53" rx="10.5" ry="9.5" transform="rotate(0 21 53)" fill="#fff" fill-opacity="0.2" filter="url(#bl4)"/><ellipse cx="24" cy="43" rx="9" ry="15" transform="rotate(-10 24 43)" fill="#fff" fill-opacity="0.12" filter="url(#bl4)"/><ellipse cx="49" cy="34" rx="10" ry="38" transform="rotate(3 49 34)" fill="#fff" fill-opacity="0.17" filter="url(#bl4)"/><ellipse cx="46" cy="68" rx="18" ry="6" transform="rotate(0 46 68)" fill="#fff" fill-opacity="0.12" filter="url(#bl4)"/><path d="M69.8,12.0 C67.5,13.3 64.6,16.1 63.0,20.4 C61.4,24.6 60.5,31.8 60.4,37.5 C60.2,43.2 60.5,49.8 62.1,54.5 C63.7,59.2 66.8,64.2 69.8,65.6 C72.8,67.0 77.0,65.7 80.0,63.0 C83.0,60.3 86.3,54.2 87.7,49.4 C89.1,44.6 89.2,39.1 88.5,34.0 C87.8,28.9 85.4,22.2 83.4,18.7 C81.4,15.2 78.9,13.9 76.6,12.8 C74.3,11.7 72.1,10.7 69.8,12.0Z" fill="#fff" fill-opacity="0.22" filter="url(#bl1)"/><ellipse cx="72" cy="42" rx="8.5" ry="18" transform="rotate(3 72 42)" fill="#fff" fill-opacity="0.29" filter="url(#bl4)"/><ellipse cx="64.5" cy="11" rx="2.4" ry="6" transform="rotate(12 64.5 11)" fill="#000" fill-opacity="0.55" filter="url(#bl1)"/><path d="M34,14 L41.5,36" stroke="#000" stroke-opacity="0.4" stroke-width="1.8" fill="none" stroke-linecap="round" filter="url(#bl1)"/><path d="M57.599999999999994,-2 L61.6,-2 L52.4,63 Z" fill="#000" fill-opacity="0.6" filter="url(#bl05)"/><path d="M62.6,-2 L53.199999999999996,60" stroke="#fff" stroke-opacity="0.3" stroke-width="0.9" fill="none" stroke-linecap="round" filter="url(#bl05)"/><path d="M56.599999999999994,-2 L52.1,55" stroke="#fff" stroke-opacity="0.24" stroke-width="0.8" fill="none" stroke-linecap="round" filter="url(#bl05)"/></g>
</svg>
<text x="503.1" y="47.2" font-size="18.6" fill="#fff" stroke="#fff" stroke-width="0.3">c</text>
<svg x="289.0" y="106.7" width="101.2" height="74.8" viewBox="0 0 100 75" preserveAspectRatio="none" overflow="hidden">
<g filter="url(#fAd)"><rect x="-20" y="-20" width="140" height="115" fill="rgb(17,17,17)"/><ellipse cx="47" cy="40" rx="45" ry="35" transform="rotate(0 47 40)" fill="#fff" fill-opacity="0.04" filter="url(#bl4)"/><ellipse cx="58" cy="22" rx="24" ry="16" transform="rotate(0 58 22)" fill="#fff" fill-opacity="0.09" filter="url(#bl4)"/><ellipse cx="45" cy="55" rx="22" ry="16" transform="rotate(0 45 55)" fill="#fff" fill-opacity="0.07" filter="url(#bl4)"/><path d="M23.0,15.3 C19.8,15.6 15.0,18.3 12.0,22.0 C9.0,25.7 5.9,32.4 5.0,37.5 C4.1,42.6 4.8,48.0 6.8,52.8 C8.8,57.6 13.3,63.9 17.0,66.4 C20.7,68.9 25.6,69.1 29.0,68.0 C32.4,66.9 35.7,63.3 37.5,59.6 C39.3,55.9 39.9,50.5 40.0,46.0 C40.1,41.5 39.7,36.7 38.3,32.4 C36.9,28.1 34.0,23.2 31.5,20.4 C28.9,17.5 26.2,15.0 23.0,15.3Z" fill="#fff" fill-opacity="0.05" filter="url(#bl1)"/><ellipse cx="19" cy="27" rx="7.5" ry="3.6" transform="rotate(-8 19 27)" fill="#fff" fill-opacity="0.2" filter="url(#bl2)"/><ellipse cx="5" cy="25" rx="4" ry="3" transform="rotate(0 5 25)" fill="#fff" fill-opacity="0.1" filter="url(#bl2)"/><ellipse cx="22" cy="50" rx="8" ry="6" transform="rotate(0 22 50)" fill="#fff" fill-opacity="0.03" filter="url(#bl2)"/><ellipse cx="52" cy="30" rx="10" ry="34" transform="rotate(6 52 30)" fill="#fff" fill-opacity="0.2" filter="url(#bl4)"/><ellipse cx="50" cy="62" rx="19" ry="12" transform="rotate(0 50 62)" fill="#fff" fill-opacity="0.18" filter="url(#bl4)"/><ellipse cx="55" cy="34" rx="5" ry="20" transform="rotate(8 55 34)" fill="#fff" fill-opacity="0.12" filter="url(#bl4)"/><ellipse cx="46" cy="10" rx="6" ry="10" transform="rotate(0 46 10)" fill="#fff" fill-opacity="0.12" filter="url(#bl4)"/><ellipse cx="76" cy="23" rx="7" ry="8.5" transform="rotate(-20 76 23)" fill="#fff" fill-opacity="0.23" filter="url(#bl2)"/><path d="M69.8,12.0 C67.5,13.3 64.6,16.1 63.0,20.4 C61.4,24.6 60.5,31.8 60.4,37.5 C60.2,43.2 60.5,49.8 62.1,54.5 C63.7,59.2 66.8,64.2 69.8,65.6 C72.8,67.0 77.0,65.7 80.0,63.0 C83.0,60.3 86.3,54.2 87.7,49.4 C89.1,44.6 89.2,39.1 88.5,34.0 C87.8,28.9 85.4,22.2 83.4,18.7 C81.4,15.2 78.9,13.9 76.6,12.8 C74.3,11.7 72.1,10.7 69.8,12.0Z" fill="#fff" fill-opacity="0.04" filter="url(#bl1)"/><path d="M58.3,-2 L63.7,-2 L51.5,62 Z" fill="#000" fill-opacity="0.6" filter="url(#bl05)"/><path d="M64.7,-2 L52.3,59" stroke="#fff" stroke-opacity="0.3" stroke-width="0.9" fill="none" stroke-linecap="round" filter="url(#bl05)"/><path d="M57.3,-2 L51.2,54" stroke="#fff" stroke-opacity="0.24" stroke-width="0.8" fill="none" stroke-linecap="round" filter="url(#bl05)"/><path d="M56,14.6 L75,14.6" stroke="#fff" stroke-opacity="0.22" stroke-width="0.6" fill="none" stroke-linecap="round"/><path d="M27,17 L34,30" stroke="#000" stroke-opacity="0.35" stroke-width="2.2" fill="none" stroke-linecap="round" filter="url(#bl1)"/></g>
</svg>
<text x="296.9" y="126.8" font-size="18.6" fill="#fff" stroke="#fff" stroke-width="0.3">d</text>
<svg x="392.3" y="106.7" width="99.7" height="74.8" viewBox="0 0 100 75" preserveAspectRatio="none" overflow="hidden">
<g filter="url(#fAe)"><rect x="-20" y="-20" width="140" height="115" fill="rgb(17,17,17)"/><ellipse cx="47" cy="40" rx="45" ry="35" transform="rotate(0 47 40)" fill="#fff" fill-opacity="0.04" filter="url(#bl4)"/><ellipse cx="28" cy="48" rx="14" ry="14" transform="rotate(0 28 48)" fill="#fff" fill-opacity="0.07" filter="url(#bl4)"/><ellipse cx="73" cy="26" rx="11" ry="13" transform="rotate(0 73 26)" fill="#fff" fill-opacity="0.07" filter="url(#bl4)"/><ellipse cx="68" cy="48" rx="13" ry="14" transform="rotate(0 68 48)" fill="#fff" fill-opacity="0.08" filter="url(#bl4)"/><path d="M23.0,15.3 C19.8,15.6 15.0,18.3 12.0,22.0 C9.0,25.7 5.9,32.4 5.0,37.5 C4.1,42.6 4.8,48.0 6.8,52.8 C8.8,57.6 13.3,63.9 17.0,66.4 C20.7,68.9 25.6,69.1 29.0,68.0 C32.4,66.9 35.7,63.3 37.5,59.6 C39.3,55.9 39.9,50.5 40.0,46.0 C40.1,41.5 39.7,36.7 38.3,32.4 C36.9,28.1 34.0,23.2 31.5,20.4 C28.9,17.5 26.2,15.0 23.0,15.3Z" fill="#fff" fill-opacity="0.07" filter="url(#bl1)"/><ellipse cx="17" cy="43" rx="3.5" ry="4" transform="rotate(0 17 43)" fill="#fff" fill-opacity="0.18" filter="url(#bl2)"/><ellipse cx="30" cy="60" rx="12" ry="8" transform="rotate(-20 30 60)" fill="#fff" fill-opacity="0.17" filter="url(#bl4)"/><ellipse cx="45" cy="30" rx="9" ry="20" transform="rotate(5 45 30)" fill="#fff" fill-opacity="0.19" filter="url(#bl4)"/><ellipse cx="46" cy="64" rx="14" ry="8" transform="rotate(0 46 64)" fill="#fff" fill-opacity="0.13" filter="url(#bl4)"/><path d="M69.8,12.0 C67.5,13.3 64.6,16.1 63.0,20.4 C61.4,24.6 60.5,31.8 60.4,37.5 C60.2,43.2 60.5,49.8 62.1,54.5 C63.7,59.2 66.8,64.2 69.8,65.6 C72.8,67.0 77.0,65.7 80.0,63.0 C83.0,60.3 86.3,54.2 87.7,49.4 C89.1,44.6 89.2,39.1 88.5,34.0 C87.8,28.9 85.4,22.2 83.4,18.7 C81.4,15.2 78.9,13.9 76.6,12.8 C74.3,11.7 72.1,10.7 69.8,12.0Z" fill="#fff" fill-opacity="0.14" filter="url(#bl1)"/><ellipse cx="73" cy="24" rx="8" ry="10" transform="rotate(0 73 24)" fill="#fff" fill-opacity="0.1" filter="url(#bl4)"/><ellipse cx="71" cy="50" rx="9.5" ry="12" transform="rotate(-10 71 50)" fill="#fff" fill-opacity="0.3" filter="url(#bl2)"/><ellipse cx="70" cy="50" rx="6" ry="8" transform="rotate(0 70 50)" fill="#fff" fill-opacity="0.08" filter="url(#bl2)"/><ellipse cx="64" cy="11" rx="2.4" ry="6" transform="rotate(12 64 11)" fill="#000" fill-opacity="0.6" filter="url(#bl1)"/><path d="M30,13 L38,34" stroke="#000" stroke-opacity="0.35" stroke-width="2.0" fill="none" stroke-linecap="round" filter="url(#bl1)"/><path d="M56.3,-2 L61.2,-2 L51.8,63 Z" fill="#000" fill-opacity="0.6" filter="url(#bl05)"/><path d="M62.2,-2 L52.599999999999994,60" stroke="#fff" stroke-opacity="0.3" stroke-width="0.9" fill="none" stroke-linecap="round" filter="url(#bl05)"/><path d="M55.3,-2 L51.5,55" stroke="#fff" stroke-opacity="0.24" stroke-width="0.8" fill="none" stroke-linecap="round" filter="url(#bl05)"/></g>
</svg>
<text x="400.2" y="126.8" font-size="18.6" fill="#fff" stroke="#fff" stroke-width="0.3">e</text>
<svg x="495.2" y="106.7" width="100.1" height="75.5" viewBox="0 0 100 75" preserveAspectRatio="none" overflow="hidden">
<g filter="url(#fAf)"><rect x="-20" y="-20" width="140" height="115" fill="rgb(17,17,17)"/><ellipse cx="47" cy="40" rx="45" ry="35" transform="rotate(0 47 40)" fill="#fff" fill-opacity="0.04" filter="url(#bl4)"/><ellipse cx="28" cy="40" rx="14" ry="16" transform="rotate(0 28 40)" fill="#fff" fill-opacity="0.07" filter="url(#bl4)"/><ellipse cx="55" cy="40" rx="14" ry="30" transform="rotate(0 55 40)" fill="#fff" fill-opacity="0.06" filter="url(#bl4)"/><path d="M23.0,15.3 C19.8,15.6 15.0,18.3 12.0,22.0 C9.0,25.7 5.9,32.4 5.0,37.5 C4.1,42.6 4.8,48.0 6.8,52.8 C8.8,57.6 13.3,63.9 17.0,66.4 C20.7,68.9 25.6,69.1 29.0,68.0 C32.4,66.9 35.7,63.3 37.5,59.6 C39.3,55.9 39.9,50.5 40.0,46.0 C40.1,41.5 39.7,36.7 38.3,32.4 C36.9,28.1 34.0,23.2 31.5,20.4 C28.9,17.5 26.2,15.0 23.0,15.3Z" fill="#fff" fill-opacity="0.04" filter="url(#bl1)"/><path d="M5,27 Q18,14 30,28 T38,44" stroke="#fff" stroke-opacity="0.18" stroke-width="5" fill="none" stroke-linecap="round" filter="url(#bl2)"/><ellipse cx="30.5" cy="48" rx="6.5" ry="5.5" transform="rotate(20 30.5 48)" fill="#fff" fill-opacity="0.3" filter="url(#bl2)"/><ellipse cx="50" cy="34" rx="10" ry="38" transform="rotate(5 50 34)" fill="#fff" fill-opacity="0.18" filter="url(#bl4)"/><ellipse cx="48" cy="66" rx="16" ry="9" transform="rotate(0 48 66)" fill="#fff" fill-opacity="0.14" filter="url(#bl4)"/><ellipse cx="61.5" cy="29" rx="4" ry="7" transform="rotate(0 61.5 29)" fill="#fff" fill-opacity="0.28" filter="url(#bl2)"/><ellipse cx="76" cy="21" rx="7" ry="8" transform="rotate(-15 76 21)" fill="#fff" fill-opacity="0.28" filter="url(#bl2)"/><path d="M69.8,12.0 C67.5,13.3 64.6,16.1 63.0,20.4 C61.4,24.6 60.5,31.8 60.4,37.5 C60.2,43.2 60.5,49.8 62.1,54.5 C63.7,59.2 66.8,64.2 69.8,65.6 C72.8,67.0 77.0,65.7 80.0,63.0 C83.0,60.3 86.3,54.2 87.7,49.4 C89.1,44.6 89.2,39.1 88.5,34.0 C87.8,28.9 85.4,22.2 83.4,18.7 C81.4,15.2 78.9,13.9 76.6,12.8 C74.3,11.7 72.1,10.7 69.8,12.0Z" fill="#fff" fill-opacity="0.03" filter="url(#bl1)"/><path d="M57.8,-2 L63.2,-2 L52,63 Z" fill="#000" fill-opacity="0.6" filter="url(#bl05)"/><path d="M64.2,-2 L52.8,60" stroke="#fff" stroke-opacity="0.3" stroke-width="0.9" fill="none" stroke-linecap="round" filter="url(#bl05)"/><path d="M56.8,-2 L51.7,55" stroke="#fff" stroke-opacity="0.24" stroke-width="0.8" fill="none" stroke-linecap="round" filter="url(#bl05)"/></g>
</svg>
<text x="503.1" y="126.8" font-size="18.6" fill="#fff" stroke="#fff" stroke-width="0.3">f</text>
<svg x="288.0" y="225.1" width="99.9" height="74.9" viewBox="0 0 100 75" preserveAspectRatio="none" overflow="hidden">
<g filter="url(#fBa)"><rect x="-20" y="-20" width="140" height="115" fill="#8a8a8a"/><ellipse cx="97" cy="40" rx="8" ry="45" transform="rotate(0 97 40)" fill="#555" fill-opacity="0.6" filter="url(#bl4)"/><ellipse cx="3" cy="55" rx="8" ry="25" transform="rotate(0 3 55)" fill="#5c5c5c" fill-opacity="0.55" filter="url(#bl4)"/><ellipse cx="50" cy="75" rx="40" ry="5" transform="rotate(0 50 75)" fill="#666" fill-opacity="0.35" filter="url(#bl4)"/><ellipse cx="6" cy="8" rx="9" ry="10" transform="rotate(0 6 8)" fill="#999" fill-opacity="0.3" filter="url(#bl4)"/><path d="M29.0,2.5 C25.3,3.7 18.1,7.6 15.3,12.0 C12.5,16.4 12.3,23.3 12.0,29.0 C11.7,34.7 12.2,40.6 13.6,46.0 C15.0,51.4 17.0,57.3 20.4,61.3 C23.8,65.3 29.2,68.9 34.0,69.8 C38.8,70.7 45.8,69.6 49.0,66.6 C52.2,63.6 52.7,58.1 53.2,52.0 C53.7,45.9 53.3,36.4 52.2,30.0 C51.1,23.6 49.0,17.8 46.5,13.6 C44.0,9.4 40.4,6.8 37.5,5.0 C34.6,3.2 32.7,1.3 29.0,2.5Z" fill="#a4a4a4" fill-opacity="0.95" filter="url(#bl1)"/><ellipse cx="30" cy="34" rx="12" ry="22" transform="rotate(-6 30 34)" fill="#aeaeae" fill-opacity="0.45" filter="url(#bl4)"/><path d="M73.0,9.0 C69.2,8.9 65.7,10.3 63.0,13.6 C60.3,16.9 58.4,22.8 57.0,29.0 C55.6,35.2 54.6,45.3 54.5,51.0 C54.4,56.7 54.2,60.0 56.2,63.0 C58.2,66.0 62.4,68.5 66.4,69.0 C70.4,69.5 76.1,68.8 80.0,66.0 C83.9,63.2 87.8,58.0 90.0,52.0 C92.2,46.0 93.7,36.3 93.0,30.0 C92.3,23.7 89.3,17.5 86.0,14.0 C82.7,10.5 76.8,9.1 73.0,9.0Z" fill="#9e9e9e" fill-opacity="0.95" filter="url(#bl1)"/><ellipse cx="73" cy="40" rx="10" ry="18" transform="rotate(5 73 40)" fill="#a8a8a8" fill-opacity="0.45" filter="url(#bl4)"/><path d="M54.5,-2 L52.5,50" stroke="#777" stroke-opacity="0.5" stroke-width="2.2" fill="none" stroke-linecap="round" filter="url(#bl05)"/><path d="M56.5,-2 L54,46" stroke="#b8b8b8" stroke-opacity="0.6" stroke-width="0.8" fill="none" stroke-linecap="round" filter="url(#bl05)"/><path d="M52.8,-2 L51.5,40" stroke="#b0b0b0" stroke-opacity="0.5" stroke-width="0.7" fill="none" stroke-linecap="round" filter="url(#bl05)"/></g>
</svg>
<text x="295.9" y="243.0" font-size="18.6" fill="#fff" stroke="#fff" stroke-width="0.3">a</text>
<svg x="391.1" y="225.1" width="99.9" height="74.9" viewBox="0 0 100 75" preserveAspectRatio="none" overflow="hidden">
<g filter="url(#fBb)"><rect x="-20" y="-20" width="140" height="115" fill="rgb(22,22,22)"/><ellipse cx="48" cy="38" rx="44" ry="40" transform="rotate(0 48 38)" fill="#fff" fill-opacity="0.05" filter="url(#bl4)"/><path d="M29.0,2.5 C25.3,3.7 18.1,7.6 15.3,12.0 C12.5,16.4 12.3,23.3 12.0,29.0 C11.7,34.7 12.2,40.6 13.6,46.0 C15.0,51.4 17.0,57.3 20.4,61.3 C23.8,65.3 29.2,68.9 34.0,69.8 C38.8,70.7 45.8,69.6 49.0,66.6 C52.2,63.6 52.7,58.1 53.2,52.0 C53.7,45.9 53.3,36.4 52.2,30.0 C51.1,23.6 49.0,17.8 46.5,13.6 C44.0,9.4 40.4,6.8 37.5,5.0 C34.6,3.2 32.7,1.3 29.0,2.5Z" fill="#fff" fill-opacity="0.085" filter="url(#bl1)"/><path d="M29.2,4.5 C25.8,5.6 19.0,9.2 16.4,13.4 C13.7,17.5 13.5,24.0 13.3,29.4 C13.0,34.7 13.4,40.3 14.8,45.4 C16.1,50.4 18.0,56.0 21.2,59.7 C24.4,63.5 29.5,66.9 33.9,67.7 C38.4,68.6 45.0,67.5 48.0,64.7 C51.0,61.9 51.5,56.7 52.0,51.0 C52.5,45.3 52.1,36.3 51.0,30.3 C50.0,24.3 48.0,18.8 45.7,14.9 C43.4,11.0 40.0,8.6 37.2,6.8 C34.5,5.1 32.7,3.4 29.2,4.5Z" fill="#fff" fill-opacity="0.115" filter="url(#bl1)"/><path d="M71.5,10.2 C68.3,9.9 64.9,10.5 62.5,13.6 C60.1,16.7 58.6,22.9 57.2,29.0 C55.8,35.1 54.6,44.4 54.2,50.0 C53.8,55.6 53.0,59.3 55.0,62.5 C57.0,65.7 62.8,68.6 66.4,69.0 C70.0,69.4 73.8,67.7 76.6,64.7 C79.4,61.7 81.8,57.0 83.4,51.0 C85.0,45.0 86.3,35.0 86.0,29.0 C85.7,23.1 84.1,18.4 81.7,15.3 C79.3,12.2 74.7,10.5 71.5,10.2Z" fill="#fff" fill-opacity="0.085" filter="url(#bl1)"/><path d="M71.4,12.0 C68.4,11.7 65.2,12.2 62.9,15.1 C60.7,18.1 59.2,23.9 57.9,29.6 C56.6,35.3 55.5,44.1 55.1,49.4 C54.8,54.6 54.0,58.1 55.9,61.1 C57.8,64.1 63.2,66.9 66.6,67.2 C70.0,67.6 73.5,66.0 76.2,63.2 C78.8,60.4 81.1,55.9 82.6,50.3 C84.0,44.7 85.3,35.2 85.0,29.6 C84.7,24.0 83.2,19.7 81.0,16.7 C78.7,13.8 74.4,12.2 71.4,12.0Z" fill="#fff" fill-opacity="0.115" filter="url(#bl1)"/><ellipse cx="36" cy="24" rx="5" ry="15" transform="rotate(-35 36 24)" fill="#fff" fill-opacity="0.1" filter="url(#bl4)"/><ellipse cx="42" cy="52" rx="7" ry="10" transform="rotate(0 42 52)" fill="#fff" fill-opacity="0.06" filter="url(#bl4)"/><ellipse cx="61" cy="42" rx="4" ry="12" transform="rotate(5 61 42)" fill="#fff" fill-opacity="0.09" filter="url(#bl4)"/><ellipse cx="22" cy="73" rx="20" ry="6" transform="rotate(-8 22 73)" fill="#fff" fill-opacity="0.2" filter="url(#bl2)"/><path d="M74,-1 L83,12" stroke="#fff" stroke-opacity="0.25" stroke-width="2.5" fill="none" stroke-linecap="round" filter="url(#bl1)"/><ellipse cx="96" cy="17" rx="5" ry="7" transform="rotate(0 96 17)" fill="#fff" fill-opacity="0.08" filter="url(#bl2)"/><ellipse cx="30" cy="2" rx="8" ry="3" transform="rotate(0 30 2)" fill="#fff" fill-opacity="0.1" filter="url(#bl2)"/><path d="M49,-2 L62.5,-2 L55,40 L53.6,64 L52.6,40 Z" fill="#000" fill-opacity="0.6" filter="url(#bl05)"/><path d="M59.2,-1 L55.2,42" stroke="#fff" stroke-opacity="0.22" stroke-width="0.8" fill="none" stroke-linecap="round" filter="url(#bl05)"/><path d="M55.6,-1 L53.6,34" stroke="#fff" stroke-opacity="0.2" stroke-width="0.7" fill="none" stroke-linecap="round" filter="url(#bl05)"/></g>
</svg>
<text x="399.0" y="243.0" font-size="18.6" fill="#fff" stroke="#fff" stroke-width="0.3">b</text>
<svg x="493.2" y="225.1" width="100.3" height="74.9" viewBox="0 0 100 75" preserveAspectRatio="none" overflow="hidden">
<g filter="url(#fBc)"><rect x="-20" y="-20" width="140" height="115" fill="rgb(22,22,22)"/><ellipse cx="48" cy="38" rx="44" ry="40" transform="rotate(0 48 38)" fill="#fff" fill-opacity="0.05" filter="url(#bl4)"/><path d="M29.0,2.5 C25.3,3.7 18.1,7.6 15.3,12.0 C12.5,16.4 12.3,23.3 12.0,29.0 C11.7,34.7 12.2,40.6 13.6,46.0 C15.0,51.4 17.0,57.3 20.4,61.3 C23.8,65.3 29.2,68.9 34.0,69.8 C38.8,70.7 45.8,69.6 49.0,66.6 C52.2,63.6 52.7,58.1 53.2,52.0 C53.7,45.9 53.3,36.4 52.2,30.0 C51.1,23.6 49.0,17.8 46.5,13.6 C44.0,9.4 40.4,6.8 37.5,5.0 C34.6,3.2 32.7,1.3 29.0,2.5Z" fill="#fff" fill-opacity="0.17" filter="url(#bl1)"/><path d="M29.2,4.5 C25.8,5.6 19.0,9.2 16.4,13.4 C13.7,17.5 13.5,24.0 13.3,29.4 C13.0,34.7 13.4,40.3 14.8,45.4 C16.1,50.4 18.0,56.0 21.2,59.7 C24.4,63.5 29.5,66.9 33.9,67.7 C38.4,68.6 45.0,67.5 48.0,64.7 C51.0,61.9 51.5,56.7 52.0,51.0 C52.5,45.3 52.1,36.3 51.0,30.3 C50.0,24.3 48.0,18.8 45.7,14.9 C43.4,11.0 40.0,8.6 37.2,6.8 C34.5,5.1 32.7,3.4 29.2,4.5Z" fill="#fff" fill-opacity="0.205" filter="url(#bl1)"/><path d="M71.5,10.2 C68.3,9.9 64.9,10.5 62.5,13.6 C60.1,16.7 58.6,22.9 57.2,29.0 C55.8,35.1 54.6,44.4 54.2,50.0 C53.8,55.6 53.0,59.3 55.0,62.5 C57.0,65.7 62.8,68.6 66.4,69.0 C70.0,69.4 73.8,67.7 76.6,64.7 C79.4,61.7 81.8,57.0 83.4,51.0 C85.0,45.0 86.3,35.0 86.0,29.0 C85.7,23.1 84.1,18.4 81.7,15.3 C79.3,12.2 74.7,10.5 71.5,10.2Z" fill="#fff" fill-opacity="0.17" filter="url(#bl1)"/><path d="M71.4,12.0 C68.4,11.7 65.2,12.2 62.9,15.1 C60.7,18.1 59.2,23.9 57.9,29.6 C56.6,35.3 55.5,44.1 55.1,49.4 C54.8,54.6 54.0,58.1 55.9,61.1 C57.8,64.1 63.2,66.9 66.6,67.2 C70.0,67.6 73.5,66.0 76.2,63.2 C78.8,60.4 81.1,55.9 82.6,50.3 C84.0,44.7 85.3,35.2 85.0,29.6 C84.7,24.0 83.2,19.7 81.0,16.7 C78.7,13.8 74.4,12.2 71.4,12.0Z" fill="#fff" fill-opacity="0.195" filter="url(#bl1)"/><ellipse cx="33" cy="42" rx="10" ry="22" transform="rotate(-6 33 42)" fill="#fff" fill-opacity="0.05" filter="url(#bl4)"/><ellipse cx="22" cy="73" rx="20" ry="6" transform="rotate(-8 22 73)" fill="#fff" fill-opacity="0.22000000000000003" filter="url(#bl2)"/><path d="M74,-1 L83,12" stroke="#fff" stroke-opacity="0.275" stroke-width="2.5" fill="none" stroke-linecap="round" filter="url(#bl1)"/><ellipse cx="96" cy="17" rx="5" ry="7" transform="rotate(0 96 17)" fill="#fff" fill-opacity="0.08800000000000001" filter="url(#bl2)"/><ellipse cx="30" cy="2" rx="8" ry="3" transform="rotate(0 30 2)" fill="#fff" fill-opacity="0.11000000000000001" filter="url(#bl2)"/><path d="M49,-2 L62.5,-2 L55,40 L53.6,64 L52.6,40 Z" fill="#000" fill-opacity="0.6" filter="url(#bl05)"/><path d="M59.2,-1 L55.2,42" stroke="#fff" stroke-opacity="0.22" stroke-width="0.8" fill="none" stroke-linecap="round" filter="url(#bl05)"/><path d="M55.6,-1 L53.6,34" stroke="#fff" stroke-opacity="0.2" stroke-width="0.7" fill="none" stroke-linecap="round" filter="url(#bl05)"/></g>
</svg>
<text x="501.1" y="243.0" font-size="18.6" fill="#fff" stroke="#fff" stroke-width="0.3">c</text>
<svg x="287.8" y="302.8" width="101.4" height="74.7" viewBox="0 0 100 75" preserveAspectRatio="none" overflow="hidden">
<g filter="url(#fBd)"><rect x="-20" y="-20" width="140" height="115" fill="rgb(22,22,22)"/><ellipse cx="48" cy="38" rx="44" ry="40" transform="rotate(0 48 38)" fill="#fff" fill-opacity="0.05" filter="url(#bl4)"/><path d="M29.0,2.5 C25.3,3.7 18.1,7.6 15.3,12.0 C12.5,16.4 12.3,23.3 12.0,29.0 C11.7,34.7 12.2,40.6 13.6,46.0 C15.0,51.4 17.0,57.3 20.4,61.3 C23.8,65.3 29.2,68.9 34.0,69.8 C38.8,70.7 45.8,69.6 49.0,66.6 C52.2,63.6 52.7,58.1 53.2,52.0 C53.7,45.9 53.3,36.4 52.2,30.0 C51.1,23.6 49.0,17.8 46.5,13.6 C44.0,9.4 40.4,6.8 37.5,5.0 C34.6,3.2 32.7,1.3 29.0,2.5Z" fill="#fff" fill-opacity="0.17" filter="url(#bl1)"/><path d="M29.2,4.5 C25.8,5.6 19.0,9.2 16.4,13.4 C13.7,17.5 13.5,24.0 13.3,29.4 C13.0,34.7 13.4,40.3 14.8,45.4 C16.1,50.4 18.0,56.0 21.2,59.7 C24.4,63.5 29.5,66.9 33.9,67.7 C38.4,68.6 45.0,67.5 48.0,64.7 C51.0,61.9 51.5,56.7 52.0,51.0 C52.5,45.3 52.1,36.3 51.0,30.3 C50.0,24.3 48.0,18.8 45.7,14.9 C43.4,11.0 40.0,8.6 37.2,6.8 C34.5,5.1 32.7,3.4 29.2,4.5Z" fill="#fff" fill-opacity="0.2" filter="url(#bl1)"/><path d="M71.5,10.2 C68.3,9.9 64.9,10.5 62.5,13.6 C60.1,16.7 58.6,22.9 57.2,29.0 C55.8,35.1 54.6,44.4 54.2,50.0 C53.8,55.6 53.0,59.3 55.0,62.5 C57.0,65.7 62.8,68.6 66.4,69.0 C70.0,69.4 73.8,67.7 76.6,64.7 C79.4,61.7 81.8,57.0 83.4,51.0 C85.0,45.0 86.3,35.0 86.0,29.0 C85.7,23.1 84.1,18.4 81.7,15.3 C79.3,12.2 74.7,10.5 71.5,10.2Z" fill="#fff" fill-opacity="0.17" filter="url(#bl1)"/><path d="M71.4,12.0 C68.4,11.7 65.2,12.2 62.9,15.1 C60.7,18.1 59.2,23.9 57.9,29.6 C56.6,35.3 55.5,44.1 55.1,49.4 C54.8,54.6 54.0,58.1 55.9,61.1 C57.8,64.1 63.2,66.9 66.6,67.2 C70.0,67.6 73.5,66.0 76.2,63.2 C78.8,60.4 81.1,55.9 82.6,50.3 C84.0,44.7 85.3,35.2 85.0,29.6 C84.7,24.0 83.2,19.7 81.0,16.7 C78.7,13.8 74.4,12.2 71.4,12.0Z" fill="#fff" fill-opacity="0.19" filter="url(#bl1)"/><ellipse cx="33" cy="44" rx="10" ry="20" transform="rotate(-6 33 44)" fill="#fff" fill-opacity="0.05" filter="url(#bl4)"/><ellipse cx="22" cy="73" rx="20" ry="6" transform="rotate(-8 22 73)" fill="#fff" fill-opacity="0.22000000000000003" filter="url(#bl2)"/><path d="M74,-1 L83,12" stroke="#fff" stroke-opacity="0.275" stroke-width="2.5" fill="none" stroke-linecap="round" filter="url(#bl1)"/><ellipse cx="96" cy="17" rx="5" ry="7" transform="rotate(0 96 17)" fill="#fff" fill-opacity="0.08800000000000001" filter="url(#bl2)"/><ellipse cx="30" cy="2" rx="8" ry="3" transform="rotate(0 30 2)" fill="#fff" fill-opacity="0.11000000000000001" filter="url(#bl2)"/><path d="M49,-2 L62.5,-2 L55,40 L53.6,64 L52.6,40 Z" fill="#000" fill-opacity="0.6" filter="url(#bl05)"/><path d="M59.2,-1 L55.2,42" stroke="#fff" stroke-opacity="0.22" stroke-width="0.8" fill="none" stroke-linecap="round" filter="url(#bl05)"/><path d="M55.6,-1 L53.6,34" stroke="#fff" stroke-opacity="0.2" stroke-width="0.7" fill="none" stroke-linecap="round" filter="url(#bl05)"/></g>
</svg>
<text x="295.7" y="321.6" font-size="18.6" fill="#fff" stroke="#fff" stroke-width="0.3">d</text>
<svg x="391.1" y="302.8" width="99.9" height="74.8" viewBox="0 0 100 75" preserveAspectRatio="none" overflow="hidden">
<g filter="url(#fBe)"><rect x="-20" y="-20" width="140" height="115" fill="rgb(22,22,22)"/><ellipse cx="48" cy="38" rx="44" ry="40" transform="rotate(0 48 38)" fill="#fff" fill-opacity="0.05" filter="url(#bl4)"/><path d="M29.0,2.5 C25.3,3.7 18.1,7.6 15.3,12.0 C12.5,16.4 12.3,23.3 12.0,29.0 C11.7,34.7 12.2,40.6 13.6,46.0 C15.0,51.4 17.0,57.3 20.4,61.3 C23.8,65.3 29.2,68.9 34.0,69.8 C38.8,70.7 45.8,69.6 49.0,66.6 C52.2,63.6 52.7,58.1 53.2,52.0 C53.7,45.9 53.3,36.4 52.2,30.0 C51.1,23.6 49.0,17.8 46.5,13.6 C44.0,9.4 40.4,6.8 37.5,5.0 C34.6,3.2 32.7,1.3 29.0,2.5Z" fill="#fff" fill-opacity="0.15" filter="url(#bl1)"/><path d="M29.2,4.5 C25.8,5.6 19.0,9.2 16.4,13.4 C13.7,17.5 13.5,24.0 13.3,29.4 C13.0,34.7 13.4,40.3 14.8,45.4 C16.1,50.4 18.0,56.0 21.2,59.7 C24.4,63.5 29.5,66.9 33.9,67.7 C38.4,68.6 45.0,67.5 48.0,64.7 C51.0,61.9 51.5,56.7 52.0,51.0 C52.5,45.3 52.1,36.3 51.0,30.3 C50.0,24.3 48.0,18.8 45.7,14.9 C43.4,11.0 40.0,8.6 37.2,6.8 C34.5,5.1 32.7,3.4 29.2,4.5Z" fill="#fff" fill-opacity="0.19" filter="url(#bl1)"/><path d="M71.5,10.2 C68.3,9.9 64.9,10.5 62.5,13.6 C60.1,16.7 58.6,22.9 57.2,29.0 C55.8,35.1 54.6,44.4 54.2,50.0 C53.8,55.6 53.0,59.3 55.0,62.5 C57.0,65.7 62.8,68.6 66.4,69.0 C70.0,69.4 73.8,67.7 76.6,64.7 C79.4,61.7 81.8,57.0 83.4,51.0 C85.0,45.0 86.3,35.0 86.0,29.0 C85.7,23.1 84.1,18.4 81.7,15.3 C79.3,12.2 74.7,10.5 71.5,10.2Z" fill="#fff" fill-opacity="0.15" filter="url(#bl1)"/><path d="M71.4,12.0 C68.4,11.7 65.2,12.2 62.9,15.1 C60.7,18.1 59.2,23.9 57.9,29.6 C56.6,35.3 55.5,44.1 55.1,49.4 C54.8,54.6 54.0,58.1 55.9,61.1 C57.8,64.1 63.2,66.9 66.6,67.2 C70.0,67.6 73.5,66.0 76.2,63.2 C78.8,60.4 81.1,55.9 82.6,50.3 C84.0,44.7 85.3,35.2 85.0,29.6 C84.7,24.0 83.2,19.7 81.0,16.7 C78.7,13.8 74.4,12.2 71.4,12.0Z" fill="#fff" fill-opacity="0.18" filter="url(#bl1)"/><ellipse cx="29" cy="43" rx="9" ry="14" transform="rotate(-6 29 43)" fill="#fff" fill-opacity="0.13" filter="url(#bl4)"/><ellipse cx="64" cy="44" rx="6" ry="14" transform="rotate(5 64 44)" fill="#fff" fill-opacity="0.11" filter="url(#bl4)"/><ellipse cx="30" cy="17" rx="8" ry="7" transform="rotate(0 30 17)" fill="#fff" fill-opacity="0.07" filter="url(#bl4)"/><ellipse cx="22" cy="73" rx="20" ry="6" transform="rotate(-8 22 73)" fill="#fff" fill-opacity="0.2" filter="url(#bl2)"/><path d="M74,-1 L83,12" stroke="#fff" stroke-opacity="0.25" stroke-width="2.5" fill="none" stroke-linecap="round" filter="url(#bl1)"/><ellipse cx="96" cy="17" rx="5" ry="7" transform="rotate(0 96 17)" fill="#fff" fill-opacity="0.08" filter="url(#bl2)"/><ellipse cx="30" cy="2" rx="8" ry="3" transform="rotate(0 30 2)" fill="#fff" fill-opacity="0.1" filter="url(#bl2)"/><path d="M49,-2 L62.5,-2 L55,40 L53.6,64 L52.6,40 Z" fill="#000" fill-opacity="0.6" filter="url(#bl05)"/><path d="M59.2,-1 L55.2,42" stroke="#fff" stroke-opacity="0.22" stroke-width="0.8" fill="none" stroke-linecap="round" filter="url(#bl05)"/><path d="M55.6,-1 L53.6,34" stroke="#fff" stroke-opacity="0.2" stroke-width="0.7" fill="none" stroke-linecap="round" filter="url(#bl05)"/></g>
</svg>
<text x="399.0" y="321.6" font-size="18.6" fill="#fff" stroke="#fff" stroke-width="0.3">e</text>
<svg x="493.3" y="302.8" width="100.0" height="75.1" viewBox="0 0 100 75" preserveAspectRatio="none" overflow="hidden">
<g filter="url(#fBf)"><rect x="-20" y="-20" width="140" height="115" fill="rgb(22,22,22)"/><ellipse cx="48" cy="38" rx="44" ry="40" transform="rotate(0 48 38)" fill="#fff" fill-opacity="0.05" filter="url(#bl4)"/><path d="M29.0,2.5 C25.3,3.7 18.1,7.6 15.3,12.0 C12.5,16.4 12.3,23.3 12.0,29.0 C11.7,34.7 12.2,40.6 13.6,46.0 C15.0,51.4 17.0,57.3 20.4,61.3 C23.8,65.3 29.2,68.9 34.0,69.8 C38.8,70.7 45.8,69.6 49.0,66.6 C52.2,63.6 52.7,58.1 53.2,52.0 C53.7,45.9 53.3,36.4 52.2,30.0 C51.1,23.6 49.0,17.8 46.5,13.6 C44.0,9.4 40.4,6.8 37.5,5.0 C34.6,3.2 32.7,1.3 29.0,2.5Z" fill="#fff" fill-opacity="0.06" filter="url(#bl1)"/><path d="M29.2,4.5 C25.8,5.6 19.0,9.2 16.4,13.4 C13.7,17.5 13.5,24.0 13.3,29.4 C13.0,34.7 13.4,40.3 14.8,45.4 C16.1,50.4 18.0,56.0 21.2,59.7 C24.4,63.5 29.5,66.9 33.9,67.7 C38.4,68.6 45.0,67.5 48.0,64.7 C51.0,61.9 51.5,56.7 52.0,51.0 C52.5,45.3 52.1,36.3 51.0,30.3 C50.0,24.3 48.0,18.8 45.7,14.9 C43.4,11.0 40.0,8.6 37.2,6.8 C34.5,5.1 32.7,3.4 29.2,4.5Z" fill="#fff" fill-opacity="0.08" filter="url(#bl1)"/><path d="M71.5,10.2 C68.3,9.9 64.9,10.5 62.5,13.6 C60.1,16.7 58.6,22.9 57.2,29.0 C55.8,35.1 54.6,44.4 54.2,50.0 C53.8,55.6 53.0,59.3 55.0,62.5 C57.0,65.7 62.8,68.6 66.4,69.0 C70.0,69.4 73.8,67.7 76.6,64.7 C79.4,61.7 81.8,57.0 83.4,51.0 C85.0,45.0 86.3,35.0 86.0,29.0 C85.7,23.1 84.1,18.4 81.7,15.3 C79.3,12.2 74.7,10.5 71.5,10.2Z" fill="#fff" fill-opacity="0.06" filter="url(#bl1)"/><path d="M71.4,12.0 C68.4,11.7 65.2,12.2 62.9,15.1 C60.7,18.1 59.2,23.9 57.9,29.6 C56.6,35.3 55.5,44.1 55.1,49.4 C54.8,54.6 54.0,58.1 55.9,61.1 C57.8,64.1 63.2,66.9 66.6,67.2 C70.0,67.6 73.5,66.0 76.2,63.2 C78.8,60.4 81.1,55.9 82.6,50.3 C84.0,44.7 85.3,35.2 85.0,29.6 C84.7,24.0 83.2,19.7 81.0,16.7 C78.7,13.8 74.4,12.2 71.4,12.0Z" fill="#fff" fill-opacity="0.07" filter="url(#bl1)"/><ellipse cx="31" cy="17" rx="8.5" ry="5" transform="rotate(10 31 17)" fill="#fff" fill-opacity="0.22" filter="url(#bl2)"/><ellipse cx="31" cy="52" rx="7" ry="8" transform="rotate(0 31 52)" fill="#fff" fill-opacity="0.27" filter="url(#bl2)"/><ellipse cx="35" cy="35" rx="5" ry="12" transform="rotate(-15 35 35)" fill="#fff" fill-opacity="0.15" filter="url(#bl4)"/><ellipse cx="44" cy="36" rx="5" ry="4" transform="rotate(0 44 36)" fill="#fff" fill-opacity="0.1" filter="url(#bl2)"/><ellipse cx="69" cy="44" rx="4" ry="16" transform="rotate(-30 69 44)" fill="#fff" fill-opacity="0.14" filter="url(#bl4)"/><ellipse cx="66" cy="20" rx="6" ry="8" transform="rotate(0 66 20)" fill="#fff" fill-opacity="0.07" filter="url(#bl4)"/><ellipse cx="22" cy="73" rx="20" ry="6" transform="rotate(-8 22 73)" fill="#fff" fill-opacity="0.13999999999999999" filter="url(#bl2)"/><path d="M74,-1 L83,12" stroke="#fff" stroke-opacity="0.175" stroke-width="2.5" fill="none" stroke-linecap="round" filter="url(#bl1)"/><ellipse cx="96" cy="17" rx="5" ry="7" transform="rotate(0 96 17)" fill="#fff" fill-opacity="0.055999999999999994" filter="url(#bl2)"/><ellipse cx="30" cy="2" rx="8" ry="3" transform="rotate(0 30 2)" fill="#fff" fill-opacity="0.06999999999999999" filter="url(#bl2)"/><path d="M49,-2 L62.5,-2 L55,40 L53.6,64 L52.6,40 Z" fill="#000" fill-opacity="0.6" filter="url(#bl05)"/><path d="M59.2,-1 L55.2,42" stroke="#fff" stroke-opacity="0.22" stroke-width="0.8" fill="none" stroke-linecap="round" filter="url(#bl05)"/><path d="M55.6,-1 L53.6,34" stroke="#fff" stroke-opacity="0.2" stroke-width="0.7" fill="none" stroke-linecap="round" filter="url(#bl05)"/></g>
</svg>
<text x="501.2" y="321.6" font-size="18.6" fill="#fff" stroke="#fff" stroke-width="0.3">f</text>
<path d="M359.6,42 L361.8,57.4 Q362,59 364,59 L376,59 Q378.4,59 378.6,62 L379.6,81 Q379,86 374.5,89 Q367,93.5 359.2,94 Q355,92 353.3,88 Q350.5,80 349.9,71 L349,56 Q350.5,50.5 354.1,47.1 Z" fill="none" stroke="#fff" stroke-width="1.1" stroke-dasharray="2.6 1.5"/>
<path d="M361,237.9 Q357.5,241 358.4,245.5 Q359.5,251 363.5,255 Q368,258.5 373.7,260 Q374,268 372,274.5 Q370,283 366,289 Q363,292.5 357.5,293.2 Q351,293.5 345.6,292.4 Q340.5,290.5 340.5,285.6 Q341,278 343,272.8 Q345,269.5 346.4,267.7 L346.4,249 Q347.5,244 350.7,241.3 Q355,238.5 361,237.9 Z" fill="none" stroke="#fff" stroke-width="1.1" stroke-dasharray="2.6 1.5"/>
<rect x="569.5" y="175.8" width="19.6" height="2.4" fill="#fff"/>
<rect x="568.2" y="371.3" width="20.1" height="2.5" fill="#fff"/>
<text x="578.8" y="193.3" font-size="10.8" fill="#111" text-anchor="middle">5 mm</text>
<text x="579.0" y="387.9" font-size="10.8" fill="#111" text-anchor="middle">5 mm</text>
<rect x="599.6" y="105.9" width="4.8" height="75" fill="url(#cbar)"/>
<rect x="598.0" y="302.1" width="4.6" height="74.6" fill="url(#cbar)"/>
<text x="607.0" y="111.9" font-size="12" fill="#111" text-anchor="start">42</text>
<text x="607.8" y="185.8" font-size="12" fill="#111" text-anchor="start">2</text>
<text x="605.2" y="308.0" font-size="12" fill="#111" text-anchor="start">45</text>
<text x="605.8" y="381.4" font-size="12" fill="#111" text-anchor="start">5</text>
<text x="633.8" y="147.0" font-size="12" fill="#111" text-anchor="middle" transform="rotate(-90 633.8 147.0)">Blood flow (a.u.)</text>
<text x="633.8" y="341.0" font-size="12" fill="#111" text-anchor="middle" transform="rotate(-90 633.8 341.0)">Blood flow (a.u.)</text>
<text x="7.5" y="459" font-size="23" fill="#000" stroke="#000" stroke-width="0.45" text-anchor="start">C</text>
<path d="M130.1,466.5 V728.7 H479.2" fill="none" stroke="#3c3c3c" stroke-width="1.2"/>
<path d="M125.8,728.6 H130.1" stroke="#3c3c3c" stroke-width="1.1"/>
<path d="M125.8,702.5 H130.1" stroke="#3c3c3c" stroke-width="1.1"/>
<path d="M125.8,676.5 H130.1" stroke="#3c3c3c" stroke-width="1.1"/>
<path d="M125.8,650.4 H130.1" stroke="#3c3c3c" stroke-width="1.1"/>
<path d="M125.8,624.2 H130.1" stroke="#3c3c3c" stroke-width="1.1"/>
<path d="M125.8,598.0 H130.1" stroke="#3c3c3c" stroke-width="1.1"/>
<path d="M125.8,571.8 H130.1" stroke="#3c3c3c" stroke-width="1.1"/>
<path d="M125.8,545.6 H130.1" stroke="#3c3c3c" stroke-width="1.1"/>
<path d="M125.8,519.4 H130.1" stroke="#3c3c3c" stroke-width="1.1"/>
<path d="M125.8,493.2 H130.1" stroke="#3c3c3c" stroke-width="1.1"/>
<path d="M125.8,467.0 H130.1" stroke="#3c3c3c" stroke-width="1.1"/>
<text x="119.8" y="708.6" font-size="12.4" fill="#111" stroke="#111" stroke-width="0.2" text-anchor="end">-1</text>
<text x="119.8" y="656.5" font-size="12.4" fill="#111" stroke="#111" stroke-width="0.2" text-anchor="end">0</text>
<text x="119.8" y="604.1" font-size="12.4" fill="#111" stroke="#111" stroke-width="0.2" text-anchor="end">1</text>
<text x="119.8" y="551.7" font-size="12.4" fill="#111" stroke="#111" stroke-width="0.2" text-anchor="end">2</text>
<text x="119.8" y="499.3" font-size="12.4" fill="#111" stroke="#111" stroke-width="0.2" text-anchor="end">3</text>
<path d="M130.2,728.7 v3.6" stroke="#3c3c3c" stroke-width="1.1"/>
<path d="M246.7,728.7 v3.6" stroke="#3c3c3c" stroke-width="1.1"/>
<path d="M362.6,728.7 v3.6" stroke="#3c3c3c" stroke-width="1.1"/>
<path d="M478.6,728.7 v3.6" stroke="#3c3c3c" stroke-width="1.1"/>
<path d="M159.2,612.1 V606.6 M157.0,606.6 h4.4" stroke="#555" stroke-width="1.1" fill="none"/>
<path d="M159.2,698.6 V707.3 M157.0,707.3 h4.4" stroke="#333" stroke-width="1.1" fill="none"/>
<rect x="144.6" y="612.1" width="29.1" height="38.3" fill="#3f6fbd" stroke="#111" stroke-width="0.9"/>
<rect x="144.6" y="650.4" width="29.1" height="48.2" fill="#dbe2f0"/>
<rect x="144.6" y="650.4" width="29.1" height="48.2" fill="url(#hatch0)" stroke="#222" stroke-width="0.9"/>
<path d="M188.2,604.3 V591.2 M186.1,591.2 h4.4" stroke="#555" stroke-width="1.1" fill="none"/>
<path d="M188.2,673.5 V681.3 M186.1,681.3 h4.4" stroke="#333" stroke-width="1.1" fill="none"/>
<rect x="173.7" y="604.3" width="29.1" height="46.1" fill="#ee2e24" stroke="#111" stroke-width="0.9"/>
<rect x="173.7" y="650.4" width="29.1" height="23.1" fill="#f6d6d6"/>
<rect x="173.7" y="650.4" width="29.1" height="23.1" fill="url(#hatch1)" stroke="#222" stroke-width="0.9"/>
<path d="M217.4,549.3 V544.6 M215.2,544.6 h4.4" stroke="#555" stroke-width="1.1" fill="none"/>
<path d="M217.4,660.4 V665.6 M215.2,665.6 h4.4" stroke="#333" stroke-width="1.1" fill="none"/>
<rect x="202.8" y="549.3" width="29.1" height="101.1" fill="#050505" stroke="#111" stroke-width="0.9"/>
<rect x="202.8" y="650.4" width="29.1" height="10.0" fill="#d8dad9"/>
<rect x="202.8" y="650.4" width="29.1" height="10.0" fill="url(#hatch2)" stroke="#222" stroke-width="0.9"/>
<path d="M275.2,593.3 V582.5 M273.0,582.5 h4.4" stroke="#555" stroke-width="1.1" fill="none"/>
<path d="M275.2,683.4 V692.1 M273.0,692.1 h4.4" stroke="#333" stroke-width="1.1" fill="none"/>
<rect x="260.6" y="593.3" width="29.2" height="57.1" fill="#3f6fbd" stroke="#111" stroke-width="0.9"/>
<rect x="260.6" y="650.4" width="29.2" height="33.0" fill="#dbe2f0"/>
<rect x="260.6" y="650.4" width="29.2" height="33.0" fill="url(#hatch0)" stroke="#222" stroke-width="0.9"/>
<path d="M304.4,602.2 V589.4 M302.2,589.4 h4.4" stroke="#555" stroke-width="1.1" fill="none"/>
<path d="M304.4,660.4 V663.8 M302.2,663.8 h4.4" stroke="#333" stroke-width="1.1" fill="none"/>
<rect x="289.8" y="602.2" width="29.2" height="48.2" fill="#ee2e24" stroke="#111" stroke-width="0.9"/>
<rect x="289.8" y="650.4" width="29.2" height="10.0" fill="#f6d6d6"/>
<rect x="289.8" y="650.4" width="29.2" height="10.0" fill="url(#hatch1)" stroke="#222" stroke-width="0.9"/>
<path d="M333.6,524.6 V514.2 M331.4,514.2 h4.4" stroke="#555" stroke-width="1.1" fill="none"/>
<rect x="319.0" y="524.6" width="29.2" height="125.8" fill="#050505" stroke="#111" stroke-width="0.9"/>
<rect x="319.0" y="650.4" width="29.2" height="0.8" fill="#d8dad9"/>
<rect x="319.0" y="650.4" width="29.2" height="0.8" fill="url(#hatch2)" stroke="#222" stroke-width="0.9"/>
<path d="M391.9,529.4 V507.6 M389.8,507.6 h4.4" stroke="#555" stroke-width="1.1" fill="none"/>
<path d="M391.9,651.4 V653.0 M389.8,653.0 h4.4" stroke="#333" stroke-width="1.1" fill="none"/>
<rect x="377.4" y="529.4" width="29.1" height="121.0" fill="#3f6fbd" stroke="#111" stroke-width="0.9"/>
<rect x="377.4" y="650.4" width="29.1" height="1.0" fill="#dbe2f0"/>
<rect x="377.4" y="650.4" width="29.1" height="1.0" fill="url(#hatch0)" stroke="#222" stroke-width="0.9"/>
<path d="M421.1,598.0 V587.3 M418.9,587.3 h4.4" stroke="#555" stroke-width="1.1" fill="none"/>
<path d="M421.1,653.0 V656.2 M418.9,656.2 h4.4" stroke="#333" stroke-width="1.1" fill="none"/>
<rect x="406.5" y="598.0" width="29.1" height="52.4" fill="#ee2e24" stroke="#111" stroke-width="0.9"/>
<rect x="406.5" y="650.4" width="29.1" height="2.6" fill="#f6d6d6"/>
<rect x="406.5" y="650.4" width="29.1" height="2.6" fill="url(#hatch1)" stroke="#222" stroke-width="0.9"/>
<path d="M450.1,512.6 V490.1 M447.9,490.1 h4.4" stroke="#555" stroke-width="1.1" fill="none"/>
<path d="M450.1,653.3 V655.9 M447.9,655.9 h4.4" stroke="#333" stroke-width="1.1" fill="none"/>
<rect x="435.6" y="512.6" width="29.1" height="137.8" fill="#050505" stroke="#111" stroke-width="0.9"/>
<rect x="435.6" y="650.4" width="29.1" height="2.9" fill="#d8dad9"/>
<rect x="435.6" y="650.4" width="29.1" height="2.9" fill="url(#hatch2)" stroke="#222" stroke-width="0.9"/>
<path d="M130.1,650.4 H479.8" stroke="#444" stroke-width="1.2"/>
<path d="M157.8,601 V467.6 H218.5 V539.4" fill="none" stroke="#222" stroke-width="1.15"/>
<path d="M276,577.4 V466.7 H335.8 V508.7" fill="none" stroke="#222" stroke-width="1.15"/>
<path d="M304.6,585.6 V490.1 H332.1 V508.7" fill="none" stroke="#222" stroke-width="1.15"/>
<path d="M420.5,581.2 V466.7 H450.3 V483.8" fill="none" stroke="#222" stroke-width="1.15"/>
<path d="M158.6,714.4 V722.4 H217.9 V671.8" fill="none" stroke="#222" stroke-width="1.15"/>
<path d="M275.3,697.3 V722.6 H335.5 V663.2" fill="none" stroke="#222" stroke-width="1.15"/>
<text x="188.4" y="466.20000000000005" font-size="16.5" fill="#000" stroke="#000" stroke-width="0.2" text-anchor="middle">*</text>
<text x="303.9" y="466.6" font-size="16.5" fill="#000" stroke="#000" stroke-width="0.2" text-anchor="middle">*</text>
<text x="316.9" y="490.20000000000005" font-size="16.5" fill="#000" stroke="#000" stroke-width="0.2" text-anchor="middle">**</text>
<text x="435.8" y="466.6" font-size="16.5" fill="#000" stroke="#000" stroke-width="0.2" text-anchor="middle">**</text>
<text x="187" y="720.6" font-size="16.5" fill="#000" stroke="#000" stroke-width="0.2" text-anchor="middle">**</text>
<text x="303.9" y="720.6" font-size="16.5" fill="#000" stroke="#000" stroke-width="0.2" text-anchor="middle">**</text>
<text x="186.3" y="747.4" font-size="13.6" fill="#111" stroke="#111" stroke-width="0.2" text-anchor="middle">60</text>
<text x="303.1" y="747.4" font-size="13.6" fill="#111" stroke="#111" stroke-width="0.2" text-anchor="middle">90</text>
<text x="419.4" y="747.4" font-size="13.6" fill="#111" stroke="#111" stroke-width="0.2" text-anchor="middle">720</text>
<text x="304" y="772.6" font-size="16.3" fill="#111" stroke="#111" stroke-width="0.2" text-anchor="middle">ACh (nmol/min)</text>
<text x="79.4" y="598.5" font-size="14" fill="#111" stroke="#111" stroke-width="0.2" text-anchor="middle" transform="rotate(-90 79.4 598.5)">Average of blood flow change (a.u.)</text>
<text x="95.8" y="598.5" font-size="14" fill="#111" stroke="#111" stroke-width="0.2" text-anchor="middle" transform="rotate(-90 95.8 598.5)">from resting level (/1 sec)</text>
<rect x="498.3" y="448.6" width="14.6" height="14.6" fill="#3359b0"/>
<rect x="498.3" y="470.2" width="14.6" height="14.2" fill="#ee2e24"/>
<rect x="498.3" y="491.4" width="14.6" height="14.2" fill="#050505" stroke="#2a3a7a" stroke-width="0.8"/>
<text x="520.2" y="460.8" font-size="14" fill="#2c4da6" stroke="#2c4da6" stroke-width="0.2" text-anchor="start">AQP5/low SD</text>
<text x="520.2" y="482.4" font-size="14" fill="#e8281e" stroke="#e8281e" stroke-width="0.2" text-anchor="start">SD</text>
<text x="520.2" y="504.0" font-size="14" fill="#111" stroke="#111" stroke-width="0.2" text-anchor="start">Wistar/ST</text>
<text x="498.3" y="562" font-size="14" fill="#111" stroke="#111" stroke-width="0.2" text-anchor="start">(Above)</text>
<text x="498.3" y="694.9" font-size="14" fill="#111" stroke="#111" stroke-width="0.2" text-anchor="start">(Below)</text>
</svg></body></html>
